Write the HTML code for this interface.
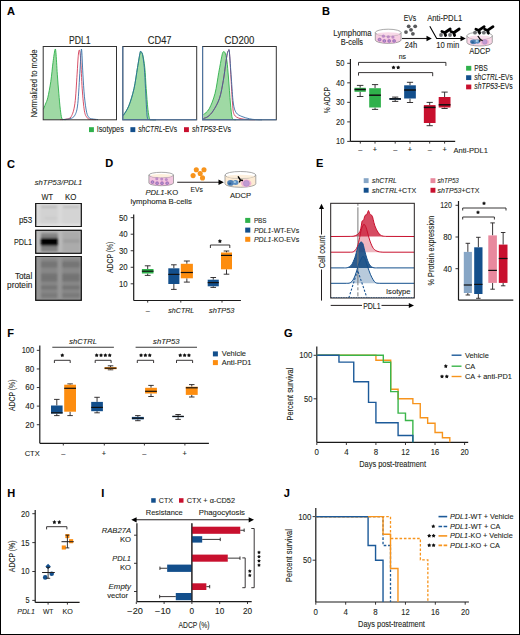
<!DOCTYPE html>
<html><head><meta charset="utf-8"><style>
html,body{margin:0;padding:0;background:#fff;}
svg{display:block;}
text{font-family:"Liberation Sans", sans-serif;}
</style></head><body>
<svg width="520" height="635" viewBox="0 0 520 635">
<rect x="0" y="0" width="520" height="635" fill="#fff"/>
<text x="6.90" y="14.80" font-size="11.0" fill="#000" font-weight="bold" stroke="#000" stroke-width="0.1">A</text>
<text x="79.80" y="43.80" font-size="10.0" fill="#231f20" text-anchor="middle" textLength="21.60" lengthAdjust="spacingAndGlyphs" stroke="#231f20" stroke-width="0.1">PDL1</text>
<text x="159.60" y="43.80" font-size="10.0" fill="#231f20" text-anchor="middle" textLength="23.80" lengthAdjust="spacingAndGlyphs" stroke="#231f20" stroke-width="0.1">CD47</text>
<text x="239.50" y="43.80" font-size="10.0" fill="#231f20" text-anchor="middle" textLength="29.80" lengthAdjust="spacingAndGlyphs" stroke="#231f20" stroke-width="0.1">CD200</text>
<path d="M43.40,109.30 C43.75,108.42 44.77,105.95 45.50,104.00 C46.23,102.05 46.92,101.35 47.80,97.60 C48.68,93.85 49.93,87.35 50.80,81.50 C51.67,75.65 52.32,67.73 53.00,62.50 C53.68,57.27 54.42,51.80 54.90,50.10 C55.38,48.40 55.50,48.28 55.90,52.30 C56.30,56.32 56.82,67.38 57.30,74.20 C57.78,81.02 58.30,87.35 58.80,93.20 C59.30,99.05 59.82,105.17 60.30,109.30 C60.78,113.43 61.25,116.32 61.70,118.00 C62.15,119.68 62.28,119.13 63.00,119.40 C63.72,119.67 65.50,119.57 66.00,119.60 L66.00,119.80 L43.40,119.80 Z" stroke="none" fill="#9fd9a4" stroke-width="1"/>
<path d="M43.40,109.30 C43.75,108.42 44.77,105.95 45.50,104.00 C46.23,102.05 46.92,101.35 47.80,97.60 C48.68,93.85 49.93,87.35 50.80,81.50 C51.67,75.65 52.32,67.73 53.00,62.50 C53.68,57.27 54.42,51.80 54.90,50.10 C55.38,48.40 55.50,48.28 55.90,52.30 C56.30,56.32 56.82,67.38 57.30,74.20 C57.78,81.02 58.30,87.35 58.80,93.20 C59.30,99.05 59.82,105.17 60.30,109.30 C60.78,113.43 61.25,116.32 61.70,118.00 C62.15,119.68 62.28,119.13 63.00,119.40 C63.72,119.67 65.50,119.57 66.00,119.60" stroke="#2fb14b" fill="none" stroke-width="0.9"/>
<path d="M60.00,119.60 C61.00,119.53 64.13,119.70 66.00,119.20 C67.87,118.70 69.72,119.22 71.20,116.60 C72.68,113.98 73.92,110.57 74.90,103.50 C75.88,96.43 76.55,82.00 77.10,74.20 C77.65,66.40 77.83,60.72 78.20,56.70 C78.57,52.68 78.88,49.62 79.30,50.10 C79.72,50.58 80.22,53.15 80.70,59.60 C81.18,66.05 81.58,80.27 82.20,88.80 C82.82,97.33 83.60,106.02 84.40,110.80 C85.20,115.58 86.07,116.08 87.00,117.50 C87.93,118.92 88.50,118.95 90.00,119.30 C91.50,119.65 95.00,119.55 96.00,119.60" stroke="#d0304c" fill="none" stroke-width="0.85"/>
<path d="M62.00,119.60 C63.30,119.47 67.65,119.53 69.80,118.80 C71.95,118.07 73.57,117.75 74.90,115.20 C76.23,112.65 76.95,111.03 77.80,103.50 C78.65,95.97 79.38,79.07 80.00,70.00 C80.62,60.93 81.02,48.40 81.50,49.10 C81.98,49.80 82.42,66.35 82.90,74.20 C83.38,82.05 83.78,89.87 84.40,96.20 C85.02,102.53 85.83,108.65 86.60,112.20 C87.37,115.75 88.15,116.40 89.00,117.50 C89.85,118.60 90.20,118.45 91.70,118.80 C93.20,119.15 96.95,119.47 98.00,119.60" stroke="#2c68a2" fill="none" stroke-width="0.85"/>
<path d="M123.30,115.30 C124.22,113.72 127.02,110.27 128.80,105.80 C130.58,101.33 132.55,94.85 134.00,88.50 C135.45,82.15 136.48,73.62 137.50,67.70 C138.52,61.78 139.52,55.60 140.10,53.00 C140.68,50.40 140.57,51.82 141.00,52.10 C141.43,52.38 142.07,52.10 142.70,54.70 C143.33,57.30 144.22,62.07 144.80,67.70 C145.38,73.33 145.68,81.58 146.20,88.50 C146.72,95.42 147.33,104.17 147.90,109.20 C148.47,114.23 148.92,116.97 149.60,118.70 C150.28,120.43 150.93,119.43 152.00,119.60 C153.07,119.77 155.33,119.68 156.00,119.70 L156.00,119.80 L123.30,119.80 Z" stroke="none" fill="#9fd9a4" stroke-width="1"/>
<path d="M123.30,115.30 C124.22,113.72 127.02,110.27 128.80,105.80 C130.58,101.33 132.55,94.85 134.00,88.50 C135.45,82.15 136.48,73.62 137.50,67.70 C138.52,61.78 139.52,55.60 140.10,53.00 C140.68,50.40 140.57,51.82 141.00,52.10 C141.43,52.38 142.07,52.10 142.70,54.70 C143.33,57.30 144.22,62.07 144.80,67.70 C145.38,73.33 145.68,81.58 146.20,88.50 C146.72,95.42 147.33,104.17 147.90,109.20 C148.47,114.23 148.92,116.97 149.60,118.70 C150.28,120.43 150.93,119.43 152.00,119.60 C153.07,119.77 155.33,119.68 156.00,119.70" stroke="#2fb14b" fill="none" stroke-width="0.9"/>
<path d="M123.30,115.60 C124.22,114.00 127.02,110.47 128.80,106.00 C130.58,101.53 132.55,95.22 134.00,88.80 C135.45,82.38 136.48,73.55 137.50,67.50 C138.52,61.45 139.52,55.12 140.10,52.50 C140.68,49.88 140.60,51.47 141.00,51.80 C141.40,52.13 141.95,51.85 142.50,54.50 C143.05,57.15 143.80,62.03 144.30,67.70 C144.80,73.37 145.12,81.58 145.50,88.50 C145.88,95.42 146.27,104.25 146.60,109.20 C146.93,114.15 146.93,116.47 147.50,118.20 C148.07,119.93 148.58,119.35 150.00,119.60 C151.42,119.85 155.00,119.68 156.00,119.70" stroke="#2c68a2" fill="none" stroke-width="0.85"/>
<path d="M203.50,114.60 C204.45,113.63 207.28,112.32 209.20,108.80 C211.12,105.28 213.40,99.58 215.00,93.50 C216.60,87.42 217.68,78.40 218.80,72.30 C219.92,66.20 221.00,60.27 221.70,56.90 C222.40,53.53 222.45,52.80 223.00,52.10 C223.55,51.40 224.35,51.25 225.00,52.70 C225.65,54.15 226.32,56.58 226.90,60.80 C227.48,65.02 227.92,70.97 228.50,78.00 C229.08,85.03 229.83,96.58 230.40,103.00 C230.97,109.42 231.42,113.77 231.90,116.50 C232.38,119.23 232.62,118.87 233.30,119.40 C233.98,119.93 235.55,119.65 236.00,119.70 L236.00,119.80 L203.50,119.80 Z" stroke="none" fill="#9fd9a4" stroke-width="1"/>
<path d="M203.50,114.60 C204.45,113.63 207.28,112.32 209.20,108.80 C211.12,105.28 213.40,99.58 215.00,93.50 C216.60,87.42 217.68,78.40 218.80,72.30 C219.92,66.20 221.00,60.27 221.70,56.90 C222.40,53.53 222.45,52.80 223.00,52.10 C223.55,51.40 224.35,51.25 225.00,52.70 C225.65,54.15 226.32,56.58 226.90,60.80 C227.48,65.02 227.92,70.97 228.50,78.00 C229.08,85.03 229.83,96.58 230.40,103.00 C230.97,109.42 231.42,113.77 231.90,116.50 C232.38,119.23 232.62,118.87 233.30,119.40 C233.98,119.93 235.55,119.65 236.00,119.70" stroke="#2fb14b" fill="none" stroke-width="0.9"/>
<path d="M203.50,118.50 C204.25,118.17 206.38,117.78 208.00,116.50 C209.62,115.22 211.28,113.83 213.20,110.80 C215.12,107.77 217.82,103.33 219.50,98.30 C221.18,93.27 222.25,86.48 223.30,80.60 C224.35,74.72 225.13,67.52 225.80,63.00 C226.47,58.48 226.88,55.53 227.30,53.50 C227.72,51.47 227.95,51.03 228.30,50.80 C228.65,50.57 228.95,47.57 229.40,52.10 C229.85,56.63 230.48,69.52 231.00,78.00 C231.52,86.48 231.97,96.90 232.50,103.00 C233.03,109.10 232.95,112.02 234.20,114.60 C235.45,117.18 237.70,117.68 240.00,118.50 C242.30,119.32 245.50,119.30 248.00,119.50 C250.50,119.70 253.83,119.67 255.00,119.70" stroke="#d0304c" fill="none" stroke-width="0.85"/>
<path d="M203.50,118.50 C204.25,118.17 206.38,117.78 208.00,116.50 C209.62,115.22 211.28,113.83 213.20,110.80 C215.12,107.77 217.82,103.33 219.50,98.30 C221.18,93.27 222.25,86.48 223.30,80.60 C224.35,74.72 225.13,67.52 225.80,63.00 C226.47,58.48 226.85,55.53 227.30,53.50 C227.75,51.47 228.15,51.03 228.50,50.80 C228.85,50.57 228.93,47.57 229.40,52.10 C229.87,56.63 230.65,69.52 231.30,78.00 C231.95,86.48 232.48,97.22 233.30,103.00 C234.12,108.78 234.77,110.45 236.20,112.70 C237.63,114.95 239.67,115.48 241.90,116.50 C244.13,117.52 247.35,118.28 249.60,118.80 C251.85,119.32 253.33,119.43 255.40,119.60 C257.47,119.77 260.90,119.77 262.00,119.80" stroke="#2c68a2" fill="none" stroke-width="0.85"/>
<rect x="43.20" y="46.50" width="73.30" height="73.30" fill="none" stroke="#333" stroke-width="1"/>
<rect x="122.80" y="46.50" width="73.90" height="73.30" fill="none" stroke="#333" stroke-width="1"/>
<rect x="202.60" y="46.50" width="73.70" height="73.30" fill="none" stroke="#333" stroke-width="1"/>
<path d="M122.80,46.50 L122.80,119.80 L196.70,119.80" stroke="#4f76a3" fill="none" stroke-width="1.1"/>
<path d="M202.60,46.50 L202.60,119.80 L276.30,119.80" stroke="#4f76a3" fill="none" stroke-width="1.1"/>
<text x="36.80" y="83.40" font-size="9.07" fill="#231f20" text-anchor="middle" textLength="68.00" lengthAdjust="spacingAndGlyphs" stroke="#231f20" stroke-width="0.1" transform="rotate(-90 36.80 83.40)">Normalized to mode</text>
<rect x="89.00" y="127.20" width="4.90" height="4.90" fill="#2fb14b" stroke="none" stroke-width="1"/>
<text x="96.70" y="132.30" font-size="8.64" fill="#231f20" textLength="27.10" lengthAdjust="spacingAndGlyphs" stroke="#231f20" stroke-width="0.1">Isotypes</text>
<rect x="130.40" y="127.20" width="4.90" height="4.90" fill="#134f8c" stroke="none" stroke-width="1"/>
<text x="138.30" y="132.30" font-size="8.64" fill="#231f20" textLength="38.80" lengthAdjust="spacingAndGlyphs" stroke="#231f20" stroke-width="0.1"><tspan font-style="italic">shCTRL</tspan>-EVs</text>
<rect x="184.00" y="127.20" width="4.90" height="4.90" fill="#c8102e" stroke="none" stroke-width="1"/>
<text x="192.10" y="132.30" font-size="8.64" fill="#231f20" textLength="38.90" lengthAdjust="spacingAndGlyphs" stroke="#231f20" stroke-width="0.1"><tspan font-style="italic">shTP53</tspan>-EVs</text>
<text x="322.10" y="14.80" font-size="11.0" fill="#000" font-weight="bold" stroke="#000" stroke-width="0.1">B</text>
<text x="352.50" y="36.20" font-size="8.21" fill="#231f20" text-anchor="middle" textLength="38.30" lengthAdjust="spacingAndGlyphs" stroke="#231f20" stroke-width="0.1">Lymphoma</text>
<text x="351.90" y="45.10" font-size="8.21" fill="#231f20" text-anchor="middle" textLength="22.20" lengthAdjust="spacingAndGlyphs" stroke="#231f20" stroke-width="0.1">B-cells</text>
<path d="M375.30,32.60 L375.30,40.00 A12.90,3.40 0 0 0 401.10,40.00 L401.10,32.60 Z" fill="#f6cfe2" stroke="#858585" stroke-width="0.7"/>
<ellipse cx="388.20" cy="32.60" rx="12.90" ry="3.40" fill="#fff" stroke="#858585" stroke-width="0.7"/>
<ellipse cx="388.20" cy="34.13" rx="11.30" ry="1.87" fill="#f6cfe2" opacity="0.8"/>
<circle cx="383.40" cy="36.20" r="1.60" fill="#b27cc0" opacity="0.8"/>
<circle cx="388.30" cy="36.80" r="1.60" fill="#b27cc0" opacity="0.8"/>
<circle cx="392.90" cy="37.10" r="1.60" fill="#b27cc0" opacity="0.8"/>
<circle cx="379.60" cy="39.60" r="2.20" fill="#e9a9d6"/>
<circle cx="379.60" cy="39.60" r="1.32" fill="#b99ad0" stroke="#8257a8" stroke-width="0.6"/>
<circle cx="384.30" cy="41.00" r="2.20" fill="#e9a9d6"/>
<circle cx="384.30" cy="41.00" r="1.32" fill="#b99ad0" stroke="#8257a8" stroke-width="0.6"/>
<circle cx="389.20" cy="41.00" r="2.20" fill="#e9a9d6"/>
<circle cx="389.20" cy="41.00" r="1.32" fill="#b99ad0" stroke="#8257a8" stroke-width="0.6"/>
<circle cx="394.10" cy="41.00" r="2.20" fill="#e9a9d6"/>
<circle cx="394.10" cy="41.00" r="1.32" fill="#b99ad0" stroke="#8257a8" stroke-width="0.6"/>
<circle cx="408.7" cy="26.3" r="1.9" fill="#58595b"/>
<circle cx="415.2" cy="26.3" r="1.9" fill="#58595b"/>
<circle cx="411" cy="29.8" r="1.9" fill="#58595b"/>
<circle cx="406" cy="32.1" r="1.9" fill="#58595b"/>
<circle cx="412.9" cy="33.8" r="1.9" fill="#58595b"/>
<text x="410.00" y="20.60" font-size="8.21" fill="#231f20" text-anchor="middle" textLength="12.50" lengthAdjust="spacingAndGlyphs" stroke="#231f20" stroke-width="0.1">EVs</text>
<line x1="402.00" y1="38.50" x2="427.50" y2="38.50" stroke="#231f20" stroke-width="1.1"/>
<path d="M431.8,38.5 L426.5,35.8 L426.5,41.2 Z" stroke="none" fill="#000" stroke-width="1"/>
<text x="411.00" y="47.50" font-size="8.21" fill="#231f20" text-anchor="middle" textLength="12.70" lengthAdjust="spacingAndGlyphs" stroke="#231f20" stroke-width="0.1">24h</text>
<text x="444.70" y="20.60" font-size="8.21" fill="#231f20" text-anchor="middle" textLength="34.90" lengthAdjust="spacingAndGlyphs" stroke="#231f20" stroke-width="0.1">Anti-PDL1</text>
<path d="M429.8,26.3 L436.7,38.5 L461,38.5" stroke="#000" fill="none" stroke-width="1.1"/>
<path d="M465.8,38.5 L460.5,35.8 L460.5,41.2 Z" stroke="none" fill="#000" stroke-width="1"/>
<text x="447.70" y="47.70" font-size="8.21" fill="#231f20" text-anchor="middle" textLength="23.00" lengthAdjust="spacingAndGlyphs" stroke="#231f20" stroke-width="0.1">10 min</text>
<circle cx="441.00" cy="35.00" r="1.9" fill="#6d6e71"/>
<path d="M441.90,31.50 L444.75,32.75 L450.20,29.00 M444.75,32.75 L445.60,35.50" stroke="#000" fill="none" stroke-width="2.8" stroke-linecap="round" stroke-linejoin="round"/>
<circle cx="450.00" cy="35.00" r="1.9" fill="#6d6e71"/>
<path d="M450.90,31.50 L453.75,32.75 L459.20,29.00 M453.75,32.75 L454.60,35.50" stroke="#000" fill="none" stroke-width="2.8" stroke-linecap="round" stroke-linejoin="round"/>
<path d="M466.90,35.80 L466.90,42.40 A12.70,3.60 0 0 0 492.30,42.40 L492.30,35.80 Z" fill="#f8d6e6" stroke="#858585" stroke-width="0.7"/>
<ellipse cx="479.60" cy="35.80" rx="12.70" ry="3.60" fill="#fff" stroke="#858585" stroke-width="0.7"/>
<ellipse cx="479.60" cy="37.42" rx="11.10" ry="1.98" fill="#f8d6e6" opacity="0.8"/>
<ellipse cx="473.5" cy="41.8" rx="3.4" ry="2.4" fill="#4f80b5"/>
<ellipse cx="477.6" cy="41.6" rx="2.6" ry="2.1" fill="#5d8fc2"/>
<ellipse cx="472.6" cy="42.2" rx="1.4" ry="1.0" fill="#2a5f95"/>
<ellipse cx="476.8" cy="41.0" rx="1.2" ry="0.9" fill="#a9d0e6"/>
<ellipse cx="484.8" cy="41.9" rx="4.2" ry="3.0" fill="#f2b7d4"/>
<circle cx="484.8" cy="41.9" r="2.4" fill="#bf9bd2" stroke="#9f7bbf" stroke-width="0.4"/>
<path d="M477.8,36.0 L480.3,39.4 L482.6,40.8 M480.3,39.4 L479.6,41.6" stroke="#000" fill="none" stroke-width="1.2"/>
<circle cx="475.00" cy="32.70" r="1.9" fill="#6d6e71"/>
<path d="M475.90,29.20 L478.75,30.45 L484.20,26.70 M478.75,30.45 L479.60,33.20" stroke="#000" fill="none" stroke-width="2.8" stroke-linecap="round" stroke-linejoin="round"/>
<circle cx="483.80" cy="32.70" r="1.9" fill="#6d6e71"/>
<path d="M484.70,29.20 L487.55,30.45 L493.00,26.70 M487.55,30.45 L488.40,33.20" stroke="#000" fill="none" stroke-width="2.8" stroke-linecap="round" stroke-linejoin="round"/>
<text x="479.80" y="53.50" font-size="8.21" fill="#231f20" text-anchor="middle" textLength="21.20" lengthAdjust="spacingAndGlyphs" stroke="#231f20" stroke-width="0.1">ADCP</text>
<line x1="350.40" y1="58.90" x2="350.40" y2="141.40" stroke="#1a1a1a" stroke-width="1.2"/>
<line x1="350.40" y1="141.40" x2="455.20" y2="141.40" stroke="#1a1a1a" stroke-width="1.2"/>
<line x1="347.20" y1="141.40" x2="350.40" y2="141.40" stroke="#231f20" stroke-width="0.9"/>
<text x="344.40" y="144.35" font-size="8.3" fill="#231f20" text-anchor="end" textLength="8.40" lengthAdjust="spacingAndGlyphs" stroke="#231f20" stroke-width="0.1">10</text>
<line x1="347.20" y1="121.88" x2="350.40" y2="121.88" stroke="#231f20" stroke-width="0.9"/>
<text x="344.40" y="124.83" font-size="8.3" fill="#231f20" text-anchor="end" textLength="8.40" lengthAdjust="spacingAndGlyphs" stroke="#231f20" stroke-width="0.1">20</text>
<line x1="347.20" y1="102.35" x2="350.40" y2="102.35" stroke="#231f20" stroke-width="0.9"/>
<text x="344.40" y="105.30" font-size="8.3" fill="#231f20" text-anchor="end" textLength="8.40" lengthAdjust="spacingAndGlyphs" stroke="#231f20" stroke-width="0.1">30</text>
<line x1="347.20" y1="82.83" x2="350.40" y2="82.83" stroke="#231f20" stroke-width="0.9"/>
<text x="344.40" y="85.78" font-size="8.3" fill="#231f20" text-anchor="end" textLength="8.40" lengthAdjust="spacingAndGlyphs" stroke="#231f20" stroke-width="0.1">40</text>
<line x1="347.20" y1="63.30" x2="350.40" y2="63.30" stroke="#231f20" stroke-width="0.9"/>
<text x="344.40" y="66.25" font-size="8.3" fill="#231f20" text-anchor="end" textLength="8.40" lengthAdjust="spacingAndGlyphs" stroke="#231f20" stroke-width="0.1">50</text>
<text x="329.90" y="100.15" font-size="9.6" fill="#231f20" text-anchor="middle" textLength="26.10" lengthAdjust="spacingAndGlyphs" stroke="#231f20" stroke-width="0.1" transform="rotate(-90 329.90 100.15)">% ADCP</text>
<line x1="360.30" y1="141.40" x2="360.30" y2="143.60" stroke="#231f20" stroke-width="0.9"/>
<text x="360.30" y="152.00" font-size="7.34" fill="#231f20" text-anchor="middle" stroke="#231f20" stroke-width="0.1">–</text>
<line x1="375.00" y1="141.40" x2="375.00" y2="143.60" stroke="#231f20" stroke-width="0.9"/>
<text x="375.00" y="152.00" font-size="7.34" fill="#231f20" text-anchor="middle" stroke="#231f20" stroke-width="0.1">+</text>
<line x1="395.20" y1="141.40" x2="395.20" y2="143.60" stroke="#231f20" stroke-width="0.9"/>
<text x="395.20" y="152.00" font-size="7.34" fill="#231f20" text-anchor="middle" stroke="#231f20" stroke-width="0.1">–</text>
<line x1="410.00" y1="141.40" x2="410.00" y2="143.60" stroke="#231f20" stroke-width="0.9"/>
<text x="410.00" y="152.00" font-size="7.34" fill="#231f20" text-anchor="middle" stroke="#231f20" stroke-width="0.1">+</text>
<line x1="429.70" y1="141.40" x2="429.70" y2="143.60" stroke="#231f20" stroke-width="0.9"/>
<text x="429.70" y="152.00" font-size="7.34" fill="#231f20" text-anchor="middle" stroke="#231f20" stroke-width="0.1">–</text>
<line x1="444.60" y1="141.40" x2="444.60" y2="143.60" stroke="#231f20" stroke-width="0.9"/>
<text x="444.60" y="152.00" font-size="7.34" fill="#231f20" text-anchor="middle" stroke="#231f20" stroke-width="0.1">+</text>
<text x="453.50" y="152.90" font-size="8.0" fill="#231f20" textLength="34.50" lengthAdjust="spacingAndGlyphs" stroke="#231f20" stroke-width="0.1">Anti-PDL1</text>
<line x1="360.15" y1="85.40" x2="360.15" y2="87.80" stroke="#231f20" stroke-width="0.9"/>
<line x1="360.15" y1="91.80" x2="360.15" y2="96.50" stroke="#231f20" stroke-width="0.9"/>
<line x1="356.90" y1="85.40" x2="363.40" y2="85.40" stroke="#231f20" stroke-width="0.9"/>
<line x1="356.90" y1="96.50" x2="363.40" y2="96.50" stroke="#231f20" stroke-width="0.9"/>
<rect x="354.50" y="87.80" width="11.30" height="4.00" fill="#2fb14b" stroke="none" stroke-width="1"/>
<line x1="354.50" y1="89.50" x2="365.80" y2="89.50" stroke="#111" stroke-width="1.5"/>
<line x1="375.05" y1="84.60" x2="375.05" y2="88.20" stroke="#231f20" stroke-width="0.9"/>
<line x1="375.05" y1="107.50" x2="375.05" y2="109.40" stroke="#231f20" stroke-width="0.9"/>
<line x1="371.95" y1="84.60" x2="378.15" y2="84.60" stroke="#231f20" stroke-width="0.9"/>
<line x1="371.95" y1="109.40" x2="378.15" y2="109.40" stroke="#231f20" stroke-width="0.9"/>
<rect x="369.20" y="88.20" width="11.70" height="19.30" fill="#2fb14b" stroke="none" stroke-width="1"/>
<line x1="369.20" y1="95.20" x2="380.90" y2="95.20" stroke="#111" stroke-width="1.5"/>
<line x1="395.20" y1="97.10" x2="395.20" y2="98.00" stroke="#231f20" stroke-width="0.9"/>
<line x1="395.20" y1="99.80" x2="395.20" y2="101.40" stroke="#231f20" stroke-width="0.9"/>
<line x1="392.10" y1="97.10" x2="398.30" y2="97.10" stroke="#231f20" stroke-width="0.9"/>
<line x1="392.10" y1="101.40" x2="398.30" y2="101.40" stroke="#231f20" stroke-width="0.9"/>
<rect x="389.45" y="98.00" width="11.50" height="1.80" fill="#134f8c" stroke="none" stroke-width="1"/>
<line x1="389.45" y1="98.90" x2="400.95" y2="98.90" stroke="#111" stroke-width="1.5"/>
<line x1="410.00" y1="82.30" x2="410.00" y2="85.30" stroke="#231f20" stroke-width="0.9"/>
<line x1="410.00" y1="98.50" x2="410.00" y2="102.50" stroke="#231f20" stroke-width="0.9"/>
<line x1="406.90" y1="82.30" x2="413.10" y2="82.30" stroke="#231f20" stroke-width="0.9"/>
<line x1="406.90" y1="102.50" x2="413.10" y2="102.50" stroke="#231f20" stroke-width="0.9"/>
<rect x="404.15" y="85.30" width="11.70" height="13.20" fill="#134f8c" stroke="none" stroke-width="1"/>
<line x1="404.15" y1="90.00" x2="415.85" y2="90.00" stroke="#111" stroke-width="1.5"/>
<line x1="429.70" y1="102.40" x2="429.70" y2="105.10" stroke="#231f20" stroke-width="0.9"/>
<line x1="429.70" y1="123.00" x2="429.70" y2="125.70" stroke="#231f20" stroke-width="0.9"/>
<line x1="426.60" y1="102.40" x2="432.80" y2="102.40" stroke="#231f20" stroke-width="0.9"/>
<line x1="426.60" y1="125.70" x2="432.80" y2="125.70" stroke="#231f20" stroke-width="0.9"/>
<rect x="423.85" y="105.10" width="11.70" height="17.90" fill="#c8102e" stroke="none" stroke-width="1"/>
<line x1="423.85" y1="107.40" x2="435.55" y2="107.40" stroke="#111" stroke-width="1.5"/>
<line x1="444.60" y1="92.10" x2="444.60" y2="97.00" stroke="#231f20" stroke-width="0.9"/>
<line x1="444.60" y1="107.50" x2="444.60" y2="108.50" stroke="#231f20" stroke-width="0.9"/>
<line x1="441.50" y1="92.10" x2="447.70" y2="92.10" stroke="#231f20" stroke-width="0.9"/>
<line x1="441.50" y1="108.50" x2="447.70" y2="108.50" stroke="#231f20" stroke-width="0.9"/>
<rect x="438.70" y="97.00" width="11.80" height="10.50" fill="#c8102e" stroke="none" stroke-width="1"/>
<line x1="438.70" y1="104.80" x2="450.50" y2="104.80" stroke="#111" stroke-width="1.5"/>
<path d="M358.5,65.5 L358.5,62.4 L445.9,62.4 L445.9,65.9" stroke="#231f20" fill="none" stroke-width="0.9"/>
<text x="402.40" y="59.20" font-size="7.34" fill="#231f20" text-anchor="middle" textLength="7.30" lengthAdjust="spacingAndGlyphs" stroke="#231f20" stroke-width="0.1">ns</text>
<path d="M358.5,75.6 L358.5,72.6 L432.7,72.6 L432.7,76.2" stroke="#231f20" fill="none" stroke-width="0.9"/>
<path d="M393.50,65.40 L394.22,66.51 L395.50,66.85 L394.66,67.88 L394.73,69.20 L393.50,68.72 L392.27,69.20 L392.34,67.88 L391.50,66.85 L392.78,66.51 Z" stroke="none" fill="#111" stroke-width="1"/>
<path d="M398.20,65.40 L398.92,66.51 L400.20,66.85 L399.36,67.88 L399.43,69.20 L398.20,68.72 L396.97,69.20 L397.04,67.88 L396.20,66.85 L397.48,66.51 Z" stroke="none" fill="#111" stroke-width="1"/>
<rect x="466.10" y="65.85" width="5.20" height="4.80" fill="#2fb14b" stroke="none" stroke-width="1"/>
<text x="474.30" y="70.65" font-size="8.42" fill="#231f20" textLength="13.50" lengthAdjust="spacingAndGlyphs" stroke="#231f20" stroke-width="0.1">PBS</text>
<rect x="466.10" y="75.25" width="5.20" height="4.80" fill="#134f8c" stroke="none" stroke-width="1"/>
<text x="474.30" y="80.05" font-size="8.42" fill="#231f20" textLength="38.50" lengthAdjust="spacingAndGlyphs" stroke="#231f20" stroke-width="0.1"><tspan font-style="italic">shCTRL</tspan>-EVs</text>
<rect x="466.10" y="84.55" width="5.20" height="4.80" fill="#c8102e" stroke="none" stroke-width="1"/>
<text x="474.30" y="89.35" font-size="8.42" fill="#231f20" textLength="38.50" lengthAdjust="spacingAndGlyphs" stroke="#231f20" stroke-width="0.1"><tspan font-style="italic">shTP53</tspan>-EVs</text>
<text x="7.10" y="167.60" font-size="11.0" fill="#000" font-weight="bold" stroke="#000" stroke-width="0.1">C</text>
<text x="58.50" y="185.10" font-size="7.99" fill="#231f20" text-anchor="middle" font-style="italic" textLength="47.40" lengthAdjust="spacingAndGlyphs" stroke="#231f20" stroke-width="0.1">shTP53/PDL1</text>
<text x="47.20" y="200.30" font-size="8.21" fill="#231f20" text-anchor="middle" textLength="11.50" lengthAdjust="spacingAndGlyphs" stroke="#231f20" stroke-width="0.1">WT</text>
<text x="70.80" y="200.30" font-size="8.21" fill="#231f20" text-anchor="middle" textLength="11.40" lengthAdjust="spacingAndGlyphs" stroke="#231f20" stroke-width="0.1">KO</text>
<text x="32.30" y="223.20" font-size="8.42" fill="#231f20" text-anchor="end" textLength="13.40" lengthAdjust="spacingAndGlyphs" stroke="#231f20" stroke-width="0.1">p53</text>
<text x="32.00" y="245.10" font-size="8.42" fill="#231f20" text-anchor="end" textLength="18.10" lengthAdjust="spacingAndGlyphs" stroke="#231f20" stroke-width="0.1">PDL1</text>
<text x="32.30" y="278.80" font-size="8.42" fill="#231f20" text-anchor="end" textLength="17.40" lengthAdjust="spacingAndGlyphs" stroke="#231f20" stroke-width="0.1">Total</text>
<text x="32.30" y="287.70" font-size="8.42" fill="#231f20" text-anchor="end" textLength="25.20" lengthAdjust="spacingAndGlyphs" stroke="#231f20" stroke-width="0.1">protein</text>
<defs>
<linearGradient id="lanes1" x1="0" x2="1" y1="0" y2="0">
<stop offset="0" stop-color="#d6d6d6"/><stop offset="0.45" stop-color="#d2d2d2"/><stop offset="0.5" stop-color="#e0e0e0"/><stop offset="0.56" stop-color="#d4d4d4"/><stop offset="1" stop-color="#d0d0d0"/>
</linearGradient>
<linearGradient id="lanes2" x1="0" x2="1" y1="0" y2="0">
<stop offset="0" stop-color="#bdbdbd"/><stop offset="0.1" stop-color="#b5b5b5"/><stop offset="0.46" stop-color="#a9a9a9"/><stop offset="0.5" stop-color="#c4c4c4"/><stop offset="0.56" stop-color="#b2b2b2"/><stop offset="1" stop-color="#ababab"/>
</linearGradient>
<linearGradient id="lanes3" x1="0" x2="1" y1="0" y2="0">
<stop offset="0" stop-color="#939393"/><stop offset="0.12" stop-color="#8d8d8d"/><stop offset="0.2" stop-color="#7e7e7e"/><stop offset="0.46" stop-color="#7f7f7f"/><stop offset="0.5" stop-color="#9c9c9c"/><stop offset="0.55" stop-color="#808080"/><stop offset="1" stop-color="#7c7c7c"/>
</linearGradient>
<radialGradient id="band" cx="0.5" cy="0.5" r="0.5">
<stop offset="0" stop-color="#000" stop-opacity="1"/><stop offset="0.55" stop-color="#111" stop-opacity="0.95"/><stop offset="1" stop-color="#333" stop-opacity="0"/>
</radialGradient>
<filter id="blur1" x="-20%" y="-20%" width="140%" height="140%"><feGaussianBlur stdDeviation="0.8"/></filter>
</defs>
<rect x="35.70" y="203.50" width="45.60" height="23.00" fill="#d9d9d9" stroke="#1a1a1a" stroke-width="1"/>
<g filter="url(#blur1)">
<rect x="40.50" y="205.00" width="17.00" height="20.00" fill="#d2d2d2" stroke="none" stroke-width="1"/>
<rect x="62.50" y="205.00" width="17.50" height="20.00" fill="#d4d4d4" stroke="none" stroke-width="1"/>
<rect x="41.00" y="206.20" width="16.00" height="1.60" fill="#b5b5b5" stroke="none" stroke-width="1"/>
<rect x="63.00" y="206.20" width="16.00" height="1.60" fill="#b9b9b9" stroke="none" stroke-width="1"/>
<rect x="45.00" y="217.50" width="12.00" height="1.50" fill="#c6c6c6" stroke="none" stroke-width="1"/>
<rect x="36.50" y="224.30" width="44.00" height="1.20" fill="#ececec" stroke="none" stroke-width="1"/>
</g>
<rect x="35.70" y="203.50" width="45.60" height="23.00" fill="none" stroke="#1a1a1a" stroke-width="1"/>
<rect x="35.70" y="230.30" width="45.60" height="23.00" fill="#b9b9b9" stroke="#1a1a1a" stroke-width="1"/>
<g filter="url(#blur1)">
<rect x="41.00" y="231.50" width="16.50" height="21.00" fill="#a9a9a9" stroke="none" stroke-width="1"/>
<rect x="62.50" y="231.50" width="17.50" height="21.00" fill="#ababab" stroke="none" stroke-width="1"/>
<rect x="41.00" y="233.50" width="16.80" height="18.00" fill="#5a5a5a" stroke="none" stroke-width="1" opacity="0.5"/>
<rect x="40.80" y="238.20" width="16.90" height="7.40" fill="#050505" stroke="none" stroke-width="1"/>
<rect x="63.00" y="239.50" width="17.00" height="3.00" fill="#959595" stroke="none" stroke-width="1" opacity="0.6"/>
</g>
<rect x="35.70" y="230.30" width="45.60" height="23.00" fill="none" stroke="#1a1a1a" stroke-width="1"/>
<rect x="35.70" y="256.50" width="45.60" height="43.80" fill="#949494" stroke="#1a1a1a" stroke-width="1"/>
<g filter="url(#blur1)">
<rect x="41.00" y="258.00" width="16.30" height="41.00" fill="#878787" stroke="none" stroke-width="1"/>
<rect x="62.30" y="258.00" width="17.50" height="41.00" fill="#888888" stroke="none" stroke-width="1"/>
<rect x="41.00" y="261.50" width="16.30" height="6.00" fill="#666" stroke="none" stroke-width="1" opacity="0.55"/>
<rect x="62.30" y="261.50" width="17.50" height="6.00" fill="#666" stroke="none" stroke-width="1" opacity="0.55"/>
<rect x="41.00" y="273.50" width="16.30" height="8.00" fill="#666" stroke="none" stroke-width="1" opacity="0.6"/>
<rect x="62.30" y="273.50" width="17.50" height="8.00" fill="#666" stroke="none" stroke-width="1" opacity="0.6"/>
<rect x="41.00" y="285.50" width="16.30" height="4.00" fill="#666" stroke="none" stroke-width="1" opacity="0.55"/>
<rect x="62.30" y="285.50" width="17.50" height="4.00" fill="#666" stroke="none" stroke-width="1" opacity="0.55"/>
<rect x="41.00" y="293.00" width="16.30" height="4.50" fill="#666" stroke="none" stroke-width="1" opacity="0.4"/>
<rect x="62.30" y="293.00" width="17.50" height="4.50" fill="#666" stroke="none" stroke-width="1" opacity="0.4"/>
</g>
<rect x="35.70" y="256.50" width="45.60" height="43.80" fill="none" stroke="#1a1a1a" stroke-width="1"/>
<text x="105.20" y="167.40" font-size="11.0" fill="#000" font-weight="bold" stroke="#000" stroke-width="0.1">D</text>
<path d="M148.90,175.00 L148.90,183.00 A12.30,2.70 0 0 0 173.50,183.00 L173.50,175.00 Z" fill="#f3c6e0" stroke="#858585" stroke-width="0.7"/>
<ellipse cx="161.20" cy="175.00" rx="12.30" ry="2.70" fill="#fff" stroke="#858585" stroke-width="0.7"/>
<ellipse cx="161.20" cy="176.22" rx="10.70" ry="1.49" fill="#f3c6e0" opacity="0.8"/>
<ellipse cx="161.2" cy="175.6" rx="10.5" ry="1.6" fill="#fdf0dc"/>
<circle cx="156.80" cy="178.80" r="1.50" fill="#b27cc0" opacity="0.8"/>
<circle cx="161.70" cy="179.10" r="1.50" fill="#b27cc0" opacity="0.8"/>
<circle cx="166.30" cy="179.40" r="1.50" fill="#b27cc0" opacity="0.8"/>
<circle cx="152.50" cy="182.10" r="2.20" fill="#e9a9d6"/>
<circle cx="152.50" cy="182.10" r="1.32" fill="#b99ad0" stroke="#8257a8" stroke-width="0.6"/>
<circle cx="157.10" cy="183.20" r="2.20" fill="#e9a9d6"/>
<circle cx="157.10" cy="183.20" r="1.32" fill="#b99ad0" stroke="#8257a8" stroke-width="0.6"/>
<circle cx="162.00" cy="183.20" r="2.20" fill="#e9a9d6"/>
<circle cx="162.00" cy="183.20" r="1.32" fill="#b99ad0" stroke="#8257a8" stroke-width="0.6"/>
<circle cx="167.20" cy="183.20" r="2.20" fill="#e9a9d6"/>
<circle cx="167.20" cy="183.20" r="1.32" fill="#b99ad0" stroke="#8257a8" stroke-width="0.6"/>
<text x="161.80" y="194.90" font-size="7.99" fill="#231f20" text-anchor="middle" textLength="32.80" lengthAdjust="spacingAndGlyphs" stroke="#231f20" stroke-width="0.1"><tspan font-style="italic">PDL1</tspan>-KO</text>
<text x="161.20" y="204.20" font-size="7.99" fill="#231f20" text-anchor="middle" textLength="61.50" lengthAdjust="spacingAndGlyphs" stroke="#231f20" stroke-width="0.1">lymphoma B-cells</text>
<line x1="177.20" y1="182.30" x2="219.50" y2="182.30" stroke="#231f20" stroke-width="1.1"/>
<path d="M223.8,182.3 L218.5,179.6 L218.5,185.0 Z" stroke="none" fill="#000" stroke-width="1"/>
<circle cx="196.3" cy="169.8" r="2.55" fill="#f7941d"/>
<circle cx="204" cy="169.8" r="2.55" fill="#f7941d"/>
<circle cx="200.2" cy="173.5" r="2.55" fill="#f7941d"/>
<circle cx="193.1" cy="175.6" r="2.55" fill="#f7941d"/>
<circle cx="202.5" cy="177.9" r="2.55" fill="#f7941d"/>
<text x="196.80" y="192.30" font-size="7.99" fill="#231f20" text-anchor="middle" textLength="12.40" lengthAdjust="spacingAndGlyphs" stroke="#231f20" stroke-width="0.1">EVs</text>
<path d="M225.00,175.00 L225.00,183.80 A15.40,3.50 0 0 0 255.80,183.80 L255.80,175.00 Z" fill="#fdebd3" stroke="#858585" stroke-width="0.7"/>
<ellipse cx="240.40" cy="175.00" rx="15.40" ry="3.50" fill="#fff" stroke="#858585" stroke-width="0.7"/>
<ellipse cx="240.40" cy="176.57" rx="13.80" ry="1.93" fill="#fdebd3" opacity="0.8"/>
<ellipse cx="230.6" cy="182.9" rx="3.4" ry="2.8" fill="#4f80b5"/>
<ellipse cx="235.6" cy="182.6" rx="2.9" ry="2.5" fill="#5d8fc2"/>
<ellipse cx="229.8" cy="183.6" rx="1.5" ry="1.1" fill="#2a5f95"/>
<ellipse cx="234.8" cy="182.0" rx="1.3" ry="1.0" fill="#a9d0e6"/>
<ellipse cx="246.2" cy="183.3" rx="5.2" ry="3.8" fill="#f2b7d4"/>
<circle cx="246.4" cy="183.4" r="3.0" fill="#bf9bd2" stroke="#9f7bbf" stroke-width="0.4"/>
<path d="M238,176.4 L240.4,180 L243,180.5 M240.4,180 L239.3,182.4" stroke="#000" fill="none" stroke-width="1.4"/>
<text x="240.60" y="198.10" font-size="7.99" fill="#231f20" text-anchor="middle" textLength="21.20" lengthAdjust="spacingAndGlyphs" stroke="#231f20" stroke-width="0.1">ADCP</text>
<line x1="133.70" y1="214.50" x2="133.70" y2="300.50" stroke="#1a1a1a" stroke-width="1.2"/>
<line x1="133.70" y1="300.50" x2="240.90" y2="300.50" stroke="#1a1a1a" stroke-width="1.2"/>
<line x1="130.70" y1="283.80" x2="133.70" y2="283.80" stroke="#231f20" stroke-width="0.9"/>
<text x="127.70" y="286.75" font-size="8.3" fill="#231f20" text-anchor="end" textLength="8.70" lengthAdjust="spacingAndGlyphs" stroke="#231f20" stroke-width="0.1">10</text>
<line x1="130.70" y1="267.27" x2="133.70" y2="267.27" stroke="#231f20" stroke-width="0.9"/>
<text x="127.70" y="270.22" font-size="8.3" fill="#231f20" text-anchor="end" textLength="8.70" lengthAdjust="spacingAndGlyphs" stroke="#231f20" stroke-width="0.1">20</text>
<line x1="130.70" y1="250.74" x2="133.70" y2="250.74" stroke="#231f20" stroke-width="0.9"/>
<text x="127.70" y="253.69" font-size="8.3" fill="#231f20" text-anchor="end" textLength="8.70" lengthAdjust="spacingAndGlyphs" stroke="#231f20" stroke-width="0.1">30</text>
<line x1="130.70" y1="234.21" x2="133.70" y2="234.21" stroke="#231f20" stroke-width="0.9"/>
<text x="127.70" y="237.16" font-size="8.3" fill="#231f20" text-anchor="end" textLength="8.70" lengthAdjust="spacingAndGlyphs" stroke="#231f20" stroke-width="0.1">40</text>
<line x1="130.70" y1="217.68" x2="133.70" y2="217.68" stroke="#231f20" stroke-width="0.9"/>
<text x="127.70" y="220.63" font-size="8.3" fill="#231f20" text-anchor="end" textLength="8.70" lengthAdjust="spacingAndGlyphs" stroke="#231f20" stroke-width="0.1">50</text>
<text x="112.80" y="257.30" font-size="9.2" fill="#231f20" text-anchor="middle" textLength="31.20" lengthAdjust="spacingAndGlyphs" stroke="#231f20" stroke-width="0.1" transform="rotate(-90 112.80 257.30)">ADCP (%)</text>
<line x1="147.70" y1="300.50" x2="147.70" y2="302.60" stroke="#231f20" stroke-width="0.9"/>
<line x1="180.80" y1="300.50" x2="180.80" y2="302.60" stroke="#231f20" stroke-width="0.9"/>
<line x1="222.00" y1="300.50" x2="222.00" y2="302.60" stroke="#231f20" stroke-width="0.9"/>
<text x="147.70" y="313.00" font-size="7.34" fill="#231f20" text-anchor="middle" stroke="#231f20" stroke-width="0.1">–</text>
<text x="181.30" y="313.30" font-size="7.34" fill="#231f20" text-anchor="middle" font-style="italic" textLength="26.00" lengthAdjust="spacingAndGlyphs" stroke="#231f20" stroke-width="0.1">shCTRL</text>
<text x="221.70" y="313.30" font-size="7.34" fill="#231f20" text-anchor="middle" font-style="italic" textLength="25.50" lengthAdjust="spacingAndGlyphs" stroke="#231f20" stroke-width="0.1">shTP53</text>
<line x1="147.70" y1="265.80" x2="147.70" y2="269.00" stroke="#231f20" stroke-width="0.9"/>
<line x1="147.70" y1="273.50" x2="147.70" y2="275.40" stroke="#231f20" stroke-width="0.9"/>
<line x1="144.80" y1="265.80" x2="150.60" y2="265.80" stroke="#231f20" stroke-width="0.9"/>
<line x1="144.80" y1="275.40" x2="150.60" y2="275.40" stroke="#231f20" stroke-width="0.9"/>
<rect x="141.90" y="269.00" width="11.60" height="4.50" fill="#2fb14b" stroke="none" stroke-width="1"/>
<line x1="141.90" y1="271.20" x2="153.50" y2="271.20" stroke="#111" stroke-width="1.2"/>
<line x1="173.85" y1="264.80" x2="173.85" y2="268.30" stroke="#231f20" stroke-width="0.9"/>
<line x1="173.85" y1="284.00" x2="173.85" y2="289.40" stroke="#231f20" stroke-width="0.9"/>
<line x1="171.05" y1="264.80" x2="176.65" y2="264.80" stroke="#231f20" stroke-width="0.9"/>
<line x1="171.05" y1="289.40" x2="176.65" y2="289.40" stroke="#231f20" stroke-width="0.9"/>
<rect x="168.30" y="268.30" width="11.10" height="15.70" fill="#134f8c" stroke="none" stroke-width="1"/>
<line x1="168.30" y1="274.40" x2="179.40" y2="274.40" stroke="#111" stroke-width="1.2"/>
<line x1="186.85" y1="261.00" x2="186.85" y2="263.80" stroke="#231f20" stroke-width="0.9"/>
<line x1="186.85" y1="278.30" x2="186.85" y2="282.10" stroke="#231f20" stroke-width="0.9"/>
<line x1="183.85" y1="261.00" x2="189.85" y2="261.00" stroke="#231f20" stroke-width="0.9"/>
<line x1="183.85" y1="282.10" x2="189.85" y2="282.10" stroke="#231f20" stroke-width="0.9"/>
<rect x="180.80" y="263.80" width="12.10" height="14.50" fill="#fd8d0f" stroke="none" stroke-width="1"/>
<line x1="180.80" y1="272.50" x2="192.90" y2="272.50" stroke="#111" stroke-width="1.2"/>
<line x1="213.25" y1="277.50" x2="213.25" y2="279.70" stroke="#231f20" stroke-width="0.9"/>
<line x1="213.25" y1="286.30" x2="213.25" y2="287.40" stroke="#231f20" stroke-width="0.9"/>
<line x1="210.45" y1="277.50" x2="216.05" y2="277.50" stroke="#231f20" stroke-width="0.9"/>
<line x1="210.45" y1="287.40" x2="216.05" y2="287.40" stroke="#231f20" stroke-width="0.9"/>
<rect x="207.70" y="279.70" width="11.10" height="6.60" fill="#134f8c" stroke="none" stroke-width="1"/>
<line x1="207.70" y1="282.60" x2="218.80" y2="282.60" stroke="#111" stroke-width="1.2"/>
<line x1="226.50" y1="251.00" x2="226.50" y2="252.50" stroke="#231f20" stroke-width="0.9"/>
<line x1="226.50" y1="269.30" x2="226.50" y2="274.20" stroke="#231f20" stroke-width="0.9"/>
<line x1="223.70" y1="251.00" x2="229.30" y2="251.00" stroke="#231f20" stroke-width="0.9"/>
<line x1="223.70" y1="274.20" x2="229.30" y2="274.20" stroke="#231f20" stroke-width="0.9"/>
<rect x="221.00" y="252.50" width="11.00" height="16.80" fill="#fd8d0f" stroke="none" stroke-width="1"/>
<line x1="221.00" y1="255.40" x2="232.00" y2="255.40" stroke="#111" stroke-width="1.2"/>
<path d="M210.4,248 L210.4,245 L229.8,245 L229.8,248" stroke="#231f20" fill="none" stroke-width="0.9"/>
<path d="M219.90,239.04 L220.64,240.19 L221.95,240.53 L221.09,241.59 L221.17,242.95 L219.90,242.45 L218.63,242.95 L218.71,241.59 L217.85,240.53 L219.16,240.19 Z" stroke="none" fill="#111" stroke-width="1"/>
<rect x="245.20" y="217.90" width="5.10" height="5.00" fill="#2fb14b" stroke="none" stroke-width="1"/>
<text x="253.90" y="222.85" font-size="7.99" fill="#231f20" textLength="12.70" lengthAdjust="spacingAndGlyphs" stroke="#231f20" stroke-width="0.1">PBS</text>
<rect x="245.20" y="227.60" width="5.10" height="5.00" fill="#134f8c" stroke="none" stroke-width="1"/>
<text x="253.90" y="232.55" font-size="7.99" fill="#231f20" textLength="45.30" lengthAdjust="spacingAndGlyphs" stroke="#231f20" stroke-width="0.1"><tspan font-style="italic">PDL1</tspan>-WT-EVs</text>
<rect x="245.20" y="236.80" width="5.10" height="5.00" fill="#fd8d0f" stroke="none" stroke-width="1"/>
<text x="253.90" y="241.75" font-size="7.99" fill="#231f20" textLength="45.30" lengthAdjust="spacingAndGlyphs" stroke="#231f20" stroke-width="0.1"><tspan font-style="italic">PDL1</tspan>-KO-EVs</text>
<text x="316.00" y="167.40" font-size="11.0" fill="#000" font-weight="bold" stroke="#000" stroke-width="0.1">E</text>
<rect x="363.70" y="178.20" width="4.90" height="4.90" fill="#87a6c6" stroke="none" stroke-width="1"/>
<text x="372.00" y="182.95" font-size="7.78" fill="#231f20" textLength="24.80" lengthAdjust="spacingAndGlyphs" stroke="#231f20" stroke-width="0.1"><tspan font-style="italic">shCTRL</tspan></text>
<rect x="363.70" y="187.80" width="4.90" height="4.90" fill="#134f8c" stroke="none" stroke-width="1"/>
<text x="372.00" y="192.55" font-size="7.78" fill="#231f20" textLength="44.30" lengthAdjust="spacingAndGlyphs" stroke="#231f20" stroke-width="0.1"><tspan font-style="italic">shCTRL</tspan>+CTX</text>
<rect x="430.50" y="178.20" width="4.90" height="4.90" fill="#e8899e" stroke="none" stroke-width="1"/>
<text x="437.50" y="182.95" font-size="7.78" fill="#231f20" textLength="21.30" lengthAdjust="spacingAndGlyphs" stroke="#231f20" stroke-width="0.1"><tspan font-style="italic">shTP53</tspan></text>
<rect x="430.50" y="187.80" width="4.90" height="4.90" fill="#c8102e" stroke="none" stroke-width="1"/>
<text x="437.50" y="192.55" font-size="7.78" fill="#231f20" textLength="42.00" lengthAdjust="spacingAndGlyphs" stroke="#231f20" stroke-width="0.1"><tspan font-style="italic">shTP53</tspan>+CTX</text>
<defs><clipPath id="eclip"><rect x="330.7" y="203.3" width="83.6" height="94.7"/></clipPath></defs>
<g clip-path="url(#eclip)">
<path d="M350.00,236.40 C350.67,236.35 352.77,236.40 354.00,236.10 C355.23,235.80 356.38,235.42 357.40,234.60 C358.42,233.78 359.43,232.77 360.10,231.20 C360.77,229.63 361.07,226.87 361.40,225.20 C361.73,223.53 361.75,222.02 362.10,221.20 C362.45,220.38 363.17,220.75 363.50,220.30 C363.83,219.85 363.83,219.32 364.10,218.50 C364.37,217.68 364.70,216.02 365.10,215.40 C365.50,214.78 366.12,215.18 366.50,214.80 C366.88,214.42 367.15,213.67 367.40,213.10 C367.65,212.53 367.82,211.83 368.00,211.40 C368.18,210.97 368.33,210.45 368.50,210.50 C368.67,210.55 368.83,211.22 369.00,211.70 C369.17,212.18 369.25,212.95 369.50,213.40 C369.75,213.85 370.17,214.12 370.50,214.40 C370.83,214.68 371.17,214.70 371.50,215.10 C371.83,215.50 372.22,216.07 372.50,216.80 C372.78,217.53 372.97,218.55 373.20,219.50 C373.43,220.45 373.62,221.43 373.90,222.50 C374.18,223.57 374.50,224.78 374.90,225.90 C375.30,227.02 375.73,228.08 376.30,229.20 C376.87,230.32 377.63,231.63 378.30,232.60 C378.97,233.57 379.52,234.42 380.30,235.00 C381.08,235.58 382.05,235.87 383.00,236.10 C383.95,236.33 385.50,236.35 386.00,236.40 L386.00,236.50 L350.00,236.50 Z" stroke="none" fill="#c8102e" stroke-width="1" fill-opacity="0.75"/>
<path d="M350.00,252.20 C350.63,252.08 352.58,252.40 353.80,251.50 C355.02,250.60 356.33,249.12 357.30,246.80 C358.27,244.48 358.93,240.48 359.60,237.60 C360.27,234.72 360.73,231.52 361.30,229.50 C361.87,227.48 362.52,226.37 363.00,225.50 C363.48,224.63 363.70,224.02 364.20,224.30 C364.70,224.58 365.42,225.75 366.00,227.20 C366.58,228.65 367.03,230.68 367.70,233.00 C368.37,235.32 369.03,238.50 370.00,241.10 C370.97,243.70 372.17,246.87 373.50,248.60 C374.83,250.33 376.42,250.90 378.00,251.50 C379.58,252.10 382.17,252.08 383.00,252.20 L383.00,252.20 L350.00,252.20 Z" stroke="none" fill="#c8102e" stroke-width="1" fill-opacity="0.3"/>
<path d="M344.00,267.90 C344.58,267.85 346.25,268.10 347.50,267.60 C348.75,267.10 350.27,266.58 351.50,264.90 C352.73,263.22 353.88,260.30 354.90,257.50 C355.92,254.70 356.82,250.45 357.60,248.10 C358.38,245.75 359.00,244.42 359.60,243.40 C360.20,242.38 360.63,241.90 361.20,242.00 C361.77,242.10 362.42,242.53 363.00,244.00 C363.58,245.47 364.03,248.33 364.70,250.80 C365.37,253.27 366.17,256.45 367.00,258.80 C367.83,261.15 368.68,263.43 369.70,264.90 C370.72,266.37 371.88,267.10 373.10,267.60 C374.32,268.10 376.35,267.85 377.00,267.90 L377.00,267.90 L344.00,267.90 Z" stroke="none" fill="#0f467f" stroke-width="1" fill-opacity="0.88"/>
<path d="M346.00,283.30 C346.70,283.22 348.93,283.52 350.20,282.80 C351.47,282.08 352.60,280.75 353.60,279.00 C354.60,277.25 355.32,274.87 356.20,272.30 C357.08,269.73 358.00,265.95 358.90,263.60 C359.80,261.25 360.92,259.40 361.60,258.20 C362.28,257.00 362.43,256.30 363.00,256.40 C363.57,256.50 364.22,257.05 365.00,258.80 C365.78,260.55 366.80,264.32 367.70,266.90 C368.60,269.48 369.50,272.17 370.40,274.30 C371.30,276.43 372.20,278.28 373.10,279.70 C374.00,281.12 374.65,282.20 375.80,282.80 C376.95,283.40 379.30,283.22 380.00,283.30 L380.00,283.30 L346.00,283.30 Z" stroke="none" fill="#134f8c" stroke-width="1" fill-opacity="0.3"/>
<line x1="357.90" y1="203.30" x2="357.90" y2="298.00" stroke="#7a7a7a" stroke-width="1.0" stroke-dasharray="2.5,1.5,78,2,3,2,4"/>
<path d="M330.7,236.50 L350.00,236.40 C350.67,236.35 352.77,236.40 354.00,236.10 C355.23,235.80 356.38,235.42 357.40,234.60 C358.42,233.78 359.43,232.77 360.10,231.20 C360.77,229.63 361.07,226.87 361.40,225.20 C361.73,223.53 361.75,222.02 362.10,221.20 C362.45,220.38 363.17,220.75 363.50,220.30 C363.83,219.85 363.83,219.32 364.10,218.50 C364.37,217.68 364.70,216.02 365.10,215.40 C365.50,214.78 366.12,215.18 366.50,214.80 C366.88,214.42 367.15,213.67 367.40,213.10 C367.65,212.53 367.82,211.83 368.00,211.40 C368.18,210.97 368.33,210.45 368.50,210.50 C368.67,210.55 368.83,211.22 369.00,211.70 C369.17,212.18 369.25,212.95 369.50,213.40 C369.75,213.85 370.17,214.12 370.50,214.40 C370.83,214.68 371.17,214.70 371.50,215.10 C371.83,215.50 372.22,216.07 372.50,216.80 C372.78,217.53 372.97,218.55 373.20,219.50 C373.43,220.45 373.62,221.43 373.90,222.50 C374.18,223.57 374.50,224.78 374.90,225.90 C375.30,227.02 375.73,228.08 376.30,229.20 C376.87,230.32 377.63,231.63 378.30,232.60 C378.97,233.57 379.52,234.42 380.30,235.00 C381.08,235.58 382.05,235.87 383.00,236.10 C383.95,236.33 385.50,236.35 386.00,236.40 L414.3,236.50" stroke="#c8102e" fill="none" stroke-width="1.0"/>
<path d="M330.7,252.20 L350.00,252.20 C350.63,252.08 352.58,252.40 353.80,251.50 C355.02,250.60 356.33,249.12 357.30,246.80 C358.27,244.48 358.93,240.48 359.60,237.60 C360.27,234.72 360.73,231.52 361.30,229.50 C361.87,227.48 362.52,226.37 363.00,225.50 C363.48,224.63 363.70,224.02 364.20,224.30 C364.70,224.58 365.42,225.75 366.00,227.20 C366.58,228.65 367.03,230.68 367.70,233.00 C368.37,235.32 369.03,238.50 370.00,241.10 C370.97,243.70 372.17,246.87 373.50,248.60 C374.83,250.33 376.42,250.90 378.00,251.50 C379.58,252.10 382.17,252.08 383.00,252.20 L414.3,252.20" stroke="#c8102e" fill="none" stroke-width="1.0"/>
<path d="M330.7,267.90 L344.00,267.90 C344.58,267.85 346.25,268.10 347.50,267.60 C348.75,267.10 350.27,266.58 351.50,264.90 C352.73,263.22 353.88,260.30 354.90,257.50 C355.92,254.70 356.82,250.45 357.60,248.10 C358.38,245.75 359.00,244.42 359.60,243.40 C360.20,242.38 360.63,241.90 361.20,242.00 C361.77,242.10 362.42,242.53 363.00,244.00 C363.58,245.47 364.03,248.33 364.70,250.80 C365.37,253.27 366.17,256.45 367.00,258.80 C367.83,261.15 368.68,263.43 369.70,264.90 C370.72,266.37 371.88,267.10 373.10,267.60 C374.32,268.10 376.35,267.85 377.00,267.90 L414.3,267.90" stroke="#134f8c" fill="none" stroke-width="1.0"/>
<path d="M330.7,283.30 L346.00,283.30 C346.70,283.22 348.93,283.52 350.20,282.80 C351.47,282.08 352.60,280.75 353.60,279.00 C354.60,277.25 355.32,274.87 356.20,272.30 C357.08,269.73 358.00,265.95 358.90,263.60 C359.80,261.25 360.92,259.40 361.60,258.20 C362.28,257.00 362.43,256.30 363.00,256.40 C363.57,256.50 364.22,257.05 365.00,258.80 C365.78,260.55 366.80,264.32 367.70,266.90 C368.60,269.48 369.50,272.17 370.40,274.30 C371.30,276.43 372.20,278.28 373.10,279.70 C374.00,281.12 374.65,282.20 375.80,282.80 C376.95,283.40 379.30,283.22 380.00,283.30 L414.3,283.30" stroke="#134f8c" fill="none" stroke-width="1.0"/>
<path d="M348.8,297.9 L357.6,270.3 L367,297.9" stroke="#1d5592" fill="none" stroke-width="1.1" stroke-dasharray="2.2,1.6"/>
<line x1="330.70" y1="297.60" x2="414.30" y2="297.60" stroke="#5b8fc9" stroke-width="1.1" stroke-dasharray="1.5,1"/>
</g>
<rect x="330.70" y="203.30" width="83.60" height="94.70" fill="none" stroke="#231f20" stroke-width="1"/>
<text x="410.50" y="294.20" font-size="7.78" fill="#231f20" text-anchor="end" textLength="24.50" lengthAdjust="spacingAndGlyphs" stroke="#231f20" stroke-width="0.1">Isotype</text>
<line x1="321.50" y1="207.00" x2="321.50" y2="234.50" stroke="#231f20" stroke-width="1"/>
<line x1="321.50" y1="269.50" x2="321.50" y2="300.60" stroke="#231f20" stroke-width="1"/>
<path d="M321.5,203.8 L319,209 L324,209 Z" stroke="none" fill="#000" stroke-width="1"/>
<text x="325.20" y="252.00" font-size="9.0" fill="#231f20" text-anchor="middle" textLength="32.70" lengthAdjust="spacingAndGlyphs" stroke="#231f20" stroke-width="0.1" transform="rotate(-90 325.20 252.00)">Cell count</text>
<line x1="330.70" y1="305.40" x2="362.00" y2="305.40" stroke="#231f20" stroke-width="1"/>
<line x1="381.50" y1="305.40" x2="410.00" y2="305.40" stroke="#231f20" stroke-width="1"/>
<path d="M414,305.4 L408.8,302.9 L408.8,307.9 Z" stroke="none" fill="#000" stroke-width="1"/>
<text x="371.90" y="308.60" font-size="8.6" fill="#231f20" text-anchor="middle" textLength="17.50" lengthAdjust="spacingAndGlyphs" stroke="#231f20" stroke-width="0.1">PDL1</text>
<line x1="458.50" y1="201.00" x2="458.50" y2="300.20" stroke="#1a1a1a" stroke-width="1.2"/>
<line x1="458.50" y1="300.20" x2="513.30" y2="300.20" stroke="#1a1a1a" stroke-width="1.2"/>
<line x1="455.50" y1="268.70" x2="458.50" y2="268.70" stroke="#231f20" stroke-width="0.9"/>
<text x="451.90" y="271.65" font-size="8.3" fill="#231f20" text-anchor="end" textLength="8.70" lengthAdjust="spacingAndGlyphs" stroke="#231f20" stroke-width="0.1">40</text>
<line x1="455.50" y1="237.00" x2="458.50" y2="237.00" stroke="#231f20" stroke-width="0.9"/>
<text x="451.90" y="239.95" font-size="8.3" fill="#231f20" text-anchor="end" textLength="8.70" lengthAdjust="spacingAndGlyphs" stroke="#231f20" stroke-width="0.1">80</text>
<line x1="455.50" y1="205.30" x2="458.50" y2="205.30" stroke="#231f20" stroke-width="0.9"/>
<text x="451.90" y="208.25" font-size="8.3" fill="#231f20" text-anchor="end" textLength="11.70" lengthAdjust="spacingAndGlyphs" stroke="#231f20" stroke-width="0.1">120</text>
<text x="434.00" y="250.60" font-size="9.0" fill="#231f20" text-anchor="middle" textLength="69.90" lengthAdjust="spacingAndGlyphs" stroke="#231f20" stroke-width="0.1" transform="rotate(-90 434.00 250.60)">% Protein expression</text>
<line x1="467.85" y1="243.30" x2="467.85" y2="251.90" stroke="#231f20" stroke-width="0.9"/>
<line x1="467.85" y1="293.00" x2="467.85" y2="295.00" stroke="#231f20" stroke-width="0.9"/>
<line x1="465.60" y1="243.30" x2="470.10" y2="243.30" stroke="#231f20" stroke-width="0.9"/>
<line x1="465.60" y1="295.00" x2="470.10" y2="295.00" stroke="#231f20" stroke-width="0.9"/>
<rect x="463.80" y="251.90" width="8.10" height="41.10" fill="#87a6c6" stroke="none" stroke-width="1"/>
<line x1="463.80" y1="285.00" x2="471.90" y2="285.00" stroke="#111" stroke-width="1.2"/>
<line x1="478.35" y1="237.30" x2="478.35" y2="247.30" stroke="#231f20" stroke-width="0.9"/>
<line x1="478.35" y1="294.00" x2="478.35" y2="298.30" stroke="#231f20" stroke-width="0.9"/>
<line x1="476.10" y1="237.30" x2="480.60" y2="237.30" stroke="#231f20" stroke-width="0.9"/>
<line x1="476.10" y1="298.30" x2="480.60" y2="298.30" stroke="#231f20" stroke-width="0.9"/>
<rect x="474.20" y="247.30" width="8.30" height="46.70" fill="#134f8c" stroke="none" stroke-width="1"/>
<line x1="474.20" y1="284.40" x2="482.50" y2="284.40" stroke="#111" stroke-width="1.2"/>
<line x1="492.60" y1="222.90" x2="492.60" y2="235.40" stroke="#231f20" stroke-width="0.9"/>
<line x1="492.60" y1="282.90" x2="492.60" y2="289.20" stroke="#231f20" stroke-width="0.9"/>
<line x1="490.35" y1="222.90" x2="494.85" y2="222.90" stroke="#231f20" stroke-width="0.9"/>
<line x1="490.35" y1="289.20" x2="494.85" y2="289.20" stroke="#231f20" stroke-width="0.9"/>
<rect x="488.30" y="235.40" width="8.60" height="47.50" fill="#e8899e" stroke="none" stroke-width="1"/>
<line x1="488.30" y1="270.40" x2="496.90" y2="270.40" stroke="#111" stroke-width="1.2"/>
<line x1="503.15" y1="232.50" x2="503.15" y2="244.60" stroke="#231f20" stroke-width="0.9"/>
<line x1="503.15" y1="282.90" x2="503.15" y2="285.80" stroke="#231f20" stroke-width="0.9"/>
<line x1="500.90" y1="232.50" x2="505.40" y2="232.50" stroke="#231f20" stroke-width="0.9"/>
<line x1="500.90" y1="285.80" x2="505.40" y2="285.80" stroke="#231f20" stroke-width="0.9"/>
<rect x="498.80" y="244.60" width="8.70" height="38.30" fill="#c8102e" stroke="none" stroke-width="1"/>
<line x1="498.80" y1="258.50" x2="507.50" y2="258.50" stroke="#111" stroke-width="1.2"/>
<path d="M462.7,210.5 L462.7,208 L506,208 L506,210.5" stroke="#231f20" fill="none" stroke-width="0.9"/>
<path d="M462.7,219.5 L462.7,217 L494.4,217 L494.4,219.5" stroke="#231f20" fill="none" stroke-width="0.9"/>
<path d="M484.00,201.30 L484.72,202.41 L486.00,202.75 L485.16,203.78 L485.23,205.10 L484.00,204.62 L482.77,205.10 L482.84,203.78 L482.00,202.75 L483.28,202.41 Z" stroke="none" fill="#111" stroke-width="1"/>
<path d="M478.00,210.30 L478.72,211.41 L480.00,211.75 L479.16,212.78 L479.23,214.10 L478.00,213.62 L476.77,214.10 L476.84,212.78 L476.00,211.75 L477.28,211.41 Z" stroke="none" fill="#111" stroke-width="1"/>
<text x="7.30" y="337.40" font-size="11.0" fill="#000" font-weight="bold" stroke="#000" stroke-width="0.1">F</text>
<line x1="39.80" y1="345.50" x2="39.80" y2="443.30" stroke="#1a1a1a" stroke-width="1.2"/>
<line x1="39.80" y1="443.30" x2="208.90" y2="443.30" stroke="#1a1a1a" stroke-width="1.2"/>
<line x1="36.80" y1="424.71" x2="39.80" y2="424.71" stroke="#231f20" stroke-width="0.9"/>
<text x="34.20" y="427.66" font-size="8.3" fill="#231f20" text-anchor="end" textLength="9.00" lengthAdjust="spacingAndGlyphs" stroke="#231f20" stroke-width="0.1">20</text>
<line x1="36.80" y1="406.12" x2="39.80" y2="406.12" stroke="#231f20" stroke-width="0.9"/>
<text x="34.20" y="409.07" font-size="8.3" fill="#231f20" text-anchor="end" textLength="9.00" lengthAdjust="spacingAndGlyphs" stroke="#231f20" stroke-width="0.1">40</text>
<line x1="36.80" y1="387.53" x2="39.80" y2="387.53" stroke="#231f20" stroke-width="0.9"/>
<text x="34.20" y="390.48" font-size="8.3" fill="#231f20" text-anchor="end" textLength="9.00" lengthAdjust="spacingAndGlyphs" stroke="#231f20" stroke-width="0.1">60</text>
<line x1="36.80" y1="368.94" x2="39.80" y2="368.94" stroke="#231f20" stroke-width="0.9"/>
<text x="34.20" y="371.89" font-size="8.3" fill="#231f20" text-anchor="end" textLength="9.00" lengthAdjust="spacingAndGlyphs" stroke="#231f20" stroke-width="0.1">80</text>
<line x1="36.80" y1="350.35" x2="39.80" y2="350.35" stroke="#231f20" stroke-width="0.9"/>
<text x="34.20" y="353.30" font-size="8.3" fill="#231f20" text-anchor="end" textLength="12.50" lengthAdjust="spacingAndGlyphs" stroke="#231f20" stroke-width="0.1">100</text>
<text x="15.00" y="395.30" font-size="9.0" fill="#231f20" text-anchor="middle" textLength="31.40" lengthAdjust="spacingAndGlyphs" stroke="#231f20" stroke-width="0.1" transform="rotate(-90 15.00 395.30)">ADCP (%)</text>
<line x1="63.30" y1="443.30" x2="63.30" y2="445.50" stroke="#231f20" stroke-width="0.9"/>
<line x1="104.30" y1="443.30" x2="104.30" y2="445.50" stroke="#231f20" stroke-width="0.9"/>
<line x1="144.40" y1="443.30" x2="144.40" y2="445.50" stroke="#231f20" stroke-width="0.9"/>
<line x1="184.90" y1="443.30" x2="184.90" y2="445.50" stroke="#231f20" stroke-width="0.9"/>
<text x="32.20" y="455.60" font-size="7.56" fill="#231f20" text-anchor="middle" textLength="15.00" lengthAdjust="spacingAndGlyphs" stroke="#231f20" stroke-width="0.1">CTX</text>
<text x="63.30" y="455.70" font-size="7.34" fill="#231f20" text-anchor="middle" stroke="#231f20" stroke-width="0.1">–</text>
<text x="104.00" y="455.70" font-size="7.34" fill="#231f20" text-anchor="middle" stroke="#231f20" stroke-width="0.1">+</text>
<text x="144.40" y="455.70" font-size="7.34" fill="#231f20" text-anchor="middle" stroke="#231f20" stroke-width="0.1">–</text>
<text x="184.70" y="455.70" font-size="7.34" fill="#231f20" text-anchor="middle" stroke="#231f20" stroke-width="0.1">+</text>
<text x="83.10" y="343.80" font-size="7.78" fill="#231f20" text-anchor="middle" font-style="italic" textLength="27.50" lengthAdjust="spacingAndGlyphs" stroke="#231f20" stroke-width="0.1">shCTRL</text>
<text x="166.30" y="343.60" font-size="7.78" fill="#231f20" text-anchor="middle" font-style="italic" textLength="26.50" lengthAdjust="spacingAndGlyphs" stroke="#231f20" stroke-width="0.1">shTP53</text>
<line x1="52.30" y1="347.20" x2="113.90" y2="347.20" stroke="#3a3a3a" stroke-width="1.1"/>
<line x1="135.60" y1="347.20" x2="197.00" y2="347.20" stroke="#3a3a3a" stroke-width="1.1"/>
<path d="M54.4,363 L54.4,360.3 L70.2,360.3 L70.2,363" stroke="#231f20" fill="none" stroke-width="0.9"/>
<path d="M95.2,363 L95.2,360.3 L111.1,360.3 L111.1,363" stroke="#231f20" fill="none" stroke-width="0.9"/>
<path d="M137.3,363 L137.3,360.3 L153.6,360.3 L153.6,363" stroke="#231f20" fill="none" stroke-width="0.9"/>
<path d="M176.5,363 L176.5,360.3 L192.6,360.3 L192.6,363" stroke="#231f20" fill="none" stroke-width="0.9"/>
<path d="M62.30,353.20 L63.02,354.31 L64.30,354.65 L63.46,355.68 L63.53,357.00 L62.30,356.52 L61.07,357.00 L61.14,355.68 L60.30,354.65 L61.58,354.31 Z" stroke="none" fill="#111" stroke-width="1"/>
<path d="M96.67,353.20 L97.39,354.31 L98.67,354.65 L97.83,355.68 L97.91,357.00 L96.67,356.52 L95.44,357.00 L95.52,355.68 L94.68,354.65 L95.96,354.31 Z" stroke="none" fill="#111" stroke-width="1"/>
<path d="M101.03,353.20 L101.74,354.31 L103.02,354.65 L102.18,355.68 L102.26,357.00 L101.03,356.52 L99.79,357.00 L99.87,355.68 L99.03,354.65 L100.31,354.31 Z" stroke="none" fill="#111" stroke-width="1"/>
<path d="M105.38,353.20 L106.09,354.31 L107.37,354.65 L106.53,355.68 L106.61,357.00 L105.38,356.52 L104.14,357.00 L104.22,355.68 L103.38,354.65 L104.66,354.31 Z" stroke="none" fill="#111" stroke-width="1"/>
<path d="M109.73,353.20 L110.44,354.31 L111.72,354.65 L110.88,355.68 L110.96,357.00 L109.73,356.52 L108.49,357.00 L108.57,355.68 L107.73,354.65 L109.01,354.31 Z" stroke="none" fill="#111" stroke-width="1"/>
<path d="M141.05,353.20 L141.77,354.31 L143.05,354.65 L142.21,355.68 L142.28,357.00 L141.05,356.52 L139.82,357.00 L139.89,355.68 L139.05,354.65 L140.33,354.31 Z" stroke="none" fill="#111" stroke-width="1"/>
<path d="M145.40,353.20 L146.12,354.31 L147.40,354.65 L146.56,355.68 L146.63,357.00 L145.40,356.52 L144.17,357.00 L144.24,355.68 L143.40,354.65 L144.68,354.31 Z" stroke="none" fill="#111" stroke-width="1"/>
<path d="M149.75,353.20 L150.47,354.31 L151.75,354.65 L150.91,355.68 L150.98,357.00 L149.75,356.52 L148.52,357.00 L148.59,355.68 L147.75,354.65 L149.03,354.31 Z" stroke="none" fill="#111" stroke-width="1"/>
<path d="M180.25,353.20 L180.97,354.31 L182.25,354.65 L181.41,355.68 L181.48,357.00 L180.25,356.52 L179.02,357.00 L179.09,355.68 L178.25,354.65 L179.53,354.31 Z" stroke="none" fill="#111" stroke-width="1"/>
<path d="M184.60,353.20 L185.32,354.31 L186.60,354.65 L185.76,355.68 L185.83,357.00 L184.60,356.52 L183.37,357.00 L183.44,355.68 L182.60,354.65 L183.88,354.31 Z" stroke="none" fill="#111" stroke-width="1"/>
<path d="M188.95,353.20 L189.67,354.31 L190.95,354.65 L190.11,355.68 L190.18,357.00 L188.95,356.52 L187.72,357.00 L187.79,355.68 L186.95,354.65 L188.23,354.31 Z" stroke="none" fill="#111" stroke-width="1"/>
<line x1="56.80" y1="399.40" x2="56.80" y2="405.50" stroke="#231f20" stroke-width="0.9"/>
<line x1="56.80" y1="413.60" x2="56.80" y2="415.60" stroke="#231f20" stroke-width="0.9"/>
<line x1="54.05" y1="399.40" x2="59.55" y2="399.40" stroke="#231f20" stroke-width="0.9"/>
<line x1="54.05" y1="415.60" x2="59.55" y2="415.60" stroke="#231f20" stroke-width="0.9"/>
<rect x="51.00" y="405.50" width="11.60" height="8.10" fill="#134f8c" stroke="none" stroke-width="1"/>
<line x1="51.00" y1="412.80" x2="62.60" y2="412.80" stroke="#111" stroke-width="1.2"/>
<line x1="70.10" y1="383.90" x2="70.10" y2="384.70" stroke="#231f20" stroke-width="0.9"/>
<line x1="70.10" y1="411.70" x2="70.10" y2="415.60" stroke="#231f20" stroke-width="0.9"/>
<line x1="67.35" y1="383.90" x2="72.85" y2="383.90" stroke="#231f20" stroke-width="0.9"/>
<line x1="67.35" y1="415.60" x2="72.85" y2="415.60" stroke="#231f20" stroke-width="0.9"/>
<rect x="64.20" y="384.70" width="11.80" height="27.00" fill="#fd8d0f" stroke="none" stroke-width="1"/>
<line x1="64.20" y1="388.30" x2="76.00" y2="388.30" stroke="#111" stroke-width="1.2"/>
<line x1="97.05" y1="397.30" x2="97.05" y2="401.90" stroke="#231f20" stroke-width="0.9"/>
<line x1="97.05" y1="411.20" x2="97.05" y2="412.80" stroke="#231f20" stroke-width="0.9"/>
<line x1="94.30" y1="397.30" x2="99.80" y2="397.30" stroke="#231f20" stroke-width="0.9"/>
<line x1="94.30" y1="412.80" x2="99.80" y2="412.80" stroke="#231f20" stroke-width="0.9"/>
<rect x="91.20" y="401.90" width="11.70" height="9.30" fill="#134f8c" stroke="none" stroke-width="1"/>
<line x1="91.20" y1="407.40" x2="102.90" y2="407.40" stroke="#111" stroke-width="1.2"/>
<line x1="110.55" y1="365.80" x2="110.55" y2="367.10" stroke="#231f20" stroke-width="0.9"/>
<line x1="110.55" y1="369.20" x2="110.55" y2="369.80" stroke="#231f20" stroke-width="0.9"/>
<line x1="107.80" y1="365.80" x2="113.30" y2="365.80" stroke="#231f20" stroke-width="0.9"/>
<line x1="107.80" y1="369.80" x2="113.30" y2="369.80" stroke="#231f20" stroke-width="0.9"/>
<rect x="104.60" y="367.10" width="11.90" height="2.10" fill="#fd8d0f" stroke="none" stroke-width="1"/>
<line x1="104.60" y1="368.20" x2="116.50" y2="368.20" stroke="#111" stroke-width="1.2"/>
<line x1="137.85" y1="415.60" x2="137.85" y2="416.90" stroke="#231f20" stroke-width="0.9"/>
<line x1="137.85" y1="419.40" x2="137.85" y2="420.70" stroke="#231f20" stroke-width="0.9"/>
<line x1="135.10" y1="415.60" x2="140.60" y2="415.60" stroke="#231f20" stroke-width="0.9"/>
<line x1="135.10" y1="420.70" x2="140.60" y2="420.70" stroke="#231f20" stroke-width="0.9"/>
<rect x="131.90" y="416.90" width="11.90" height="2.50" fill="#134f8c" stroke="none" stroke-width="1"/>
<line x1="131.90" y1="418.20" x2="143.80" y2="418.20" stroke="#111" stroke-width="1.2"/>
<line x1="151.00" y1="385.40" x2="151.00" y2="387.80" stroke="#231f20" stroke-width="0.9"/>
<line x1="151.00" y1="393.50" x2="151.00" y2="396.50" stroke="#231f20" stroke-width="0.9"/>
<line x1="148.25" y1="385.40" x2="153.75" y2="385.40" stroke="#231f20" stroke-width="0.9"/>
<line x1="148.25" y1="396.50" x2="153.75" y2="396.50" stroke="#231f20" stroke-width="0.9"/>
<rect x="145.10" y="387.80" width="11.80" height="5.70" fill="#fd8d0f" stroke="none" stroke-width="1"/>
<line x1="145.10" y1="391.30" x2="156.90" y2="391.30" stroke="#111" stroke-width="1.2"/>
<line x1="178.10" y1="414.50" x2="178.10" y2="415.90" stroke="#231f20" stroke-width="0.9"/>
<line x1="178.10" y1="417.20" x2="178.10" y2="419.40" stroke="#231f20" stroke-width="0.9"/>
<line x1="175.35" y1="414.50" x2="180.85" y2="414.50" stroke="#231f20" stroke-width="0.9"/>
<line x1="175.35" y1="419.40" x2="180.85" y2="419.40" stroke="#231f20" stroke-width="0.9"/>
<rect x="172.40" y="415.90" width="11.40" height="1.30" fill="#134f8c" stroke="none" stroke-width="1"/>
<line x1="172.40" y1="416.40" x2="183.80" y2="416.40" stroke="#111" stroke-width="1.2"/>
<line x1="191.75" y1="384.60" x2="191.75" y2="386.70" stroke="#231f20" stroke-width="0.9"/>
<line x1="191.75" y1="394.90" x2="191.75" y2="397.00" stroke="#231f20" stroke-width="0.9"/>
<line x1="189.00" y1="384.60" x2="194.50" y2="384.60" stroke="#231f20" stroke-width="0.9"/>
<line x1="189.00" y1="397.00" x2="194.50" y2="397.00" stroke="#231f20" stroke-width="0.9"/>
<rect x="185.80" y="386.70" width="11.90" height="8.20" fill="#fd8d0f" stroke="none" stroke-width="1"/>
<line x1="185.80" y1="387.80" x2="197.70" y2="387.80" stroke="#111" stroke-width="1.2"/>
<rect x="212.90" y="351.40" width="5.00" height="5.00" fill="#134f8c" stroke="none" stroke-width="1"/>
<text x="221.80" y="356.40" font-size="7.78" fill="#231f20" textLength="24.20" lengthAdjust="spacingAndGlyphs" stroke="#231f20" stroke-width="0.1">Vehicle</text>
<rect x="212.90" y="360.10" width="5.00" height="5.00" fill="#fd8d0f" stroke="none" stroke-width="1"/>
<text x="221.80" y="365.10" font-size="7.78" fill="#231f20" textLength="29.60" lengthAdjust="spacingAndGlyphs" stroke="#231f20" stroke-width="0.1">Anti-PD1</text>
<text x="284.00" y="337.40" font-size="11.0" fill="#000" font-weight="bold" stroke="#000" stroke-width="0.1">G</text>
<line x1="316.80" y1="346.60" x2="316.80" y2="442.30" stroke="#1a1a1a" stroke-width="1.2"/>
<line x1="316.80" y1="442.30" x2="468.20" y2="442.30" stroke="#1a1a1a" stroke-width="1.2"/>
<line x1="313.60" y1="355.30" x2="316.80" y2="355.30" stroke="#231f20" stroke-width="0.9"/>
<text x="312.40" y="358.30" font-size="9.29" fill="#231f20" text-anchor="end" textLength="13.20" lengthAdjust="spacingAndGlyphs" stroke="#231f20" stroke-width="0.1">100</text>
<line x1="313.60" y1="398.80" x2="316.80" y2="398.80" stroke="#231f20" stroke-width="0.9"/>
<text x="312.40" y="401.80" font-size="9.29" fill="#231f20" text-anchor="end" textLength="8.50" lengthAdjust="spacingAndGlyphs" stroke="#231f20" stroke-width="0.1">50</text>
<line x1="316.80" y1="442.30" x2="316.80" y2="445.00" stroke="#231f20" stroke-width="0.9"/>
<text x="316.80" y="455.00" font-size="9.29" fill="#231f20" text-anchor="middle" textLength="4.40" lengthAdjust="spacingAndGlyphs" stroke="#231f20" stroke-width="0.1">0</text>
<line x1="346.36" y1="442.30" x2="346.36" y2="445.00" stroke="#231f20" stroke-width="0.9"/>
<text x="346.36" y="455.00" font-size="9.29" fill="#231f20" text-anchor="middle" textLength="4.40" lengthAdjust="spacingAndGlyphs" stroke="#231f20" stroke-width="0.1">4</text>
<line x1="375.92" y1="442.30" x2="375.92" y2="445.00" stroke="#231f20" stroke-width="0.9"/>
<text x="375.92" y="455.00" font-size="9.29" fill="#231f20" text-anchor="middle" textLength="4.40" lengthAdjust="spacingAndGlyphs" stroke="#231f20" stroke-width="0.1">8</text>
<line x1="405.48" y1="442.30" x2="405.48" y2="445.00" stroke="#231f20" stroke-width="0.9"/>
<text x="405.48" y="455.00" font-size="9.29" fill="#231f20" text-anchor="middle" textLength="8.40" lengthAdjust="spacingAndGlyphs" stroke="#231f20" stroke-width="0.1">12</text>
<line x1="435.04" y1="442.30" x2="435.04" y2="445.00" stroke="#231f20" stroke-width="0.9"/>
<text x="435.04" y="455.00" font-size="9.29" fill="#231f20" text-anchor="middle" textLength="8.40" lengthAdjust="spacingAndGlyphs" stroke="#231f20" stroke-width="0.1">16</text>
<line x1="464.60" y1="442.30" x2="464.60" y2="445.00" stroke="#231f20" stroke-width="0.9"/>
<text x="464.60" y="455.00" font-size="9.29" fill="#231f20" text-anchor="middle" textLength="8.40" lengthAdjust="spacingAndGlyphs" stroke="#231f20" stroke-width="0.1">20</text>
<text x="392.60" y="466.60" font-size="9.07" fill="#231f20" text-anchor="middle" textLength="66.80" lengthAdjust="spacingAndGlyphs" stroke="#231f20" stroke-width="0.1">Days post-treatment</text>
<text x="293.30" y="394.10" font-size="9.07" fill="#231f20" text-anchor="middle" textLength="52.80" lengthAdjust="spacingAndGlyphs" stroke="#231f20" stroke-width="0.1" transform="rotate(-90 293.30 394.10)">Percent survival</text>
<path d="M316.80,355.30 H375.92 V360.20 H390.70 V389.30 H398.09 V398.80 H412.87 V403.60 H420.26 V417.70 H427.65 V423.30 H435.04 V432.50 H442.43 V437.70 H449.82 V442.30" stroke="#f7941d" fill="none" stroke-width="1.4"/>
<path d="M316.80,355.30 H383.31 V362.20 H390.70 V391.60 H398.09 V413.10 H405.48 V420.50 H412.87 V442.30" stroke="#3ab54a" fill="none" stroke-width="1.4"/>
<path d="M316.80,355.30 H338.97 V362.10 H353.75 V381.70 H368.53 V402.40 H375.92 V422.80 H398.09 V435.50 H412.87 V442.30" stroke="#1c5a99" fill="none" stroke-width="1.4"/>
<line x1="451.60" y1="355.20" x2="461.50" y2="355.20" stroke="#1c5a99" stroke-width="1.4"/>
<line x1="451.60" y1="366.20" x2="461.50" y2="366.20" stroke="#3ab54a" stroke-width="1.4"/>
<line x1="451.60" y1="376.50" x2="461.50" y2="376.50" stroke="#f7941d" stroke-width="1.4"/>
<text x="465.00" y="357.80" font-size="7.56" fill="#231f20" textLength="23.80" lengthAdjust="spacingAndGlyphs" stroke="#231f20" stroke-width="0.1">Vehicle</text>
<text x="465.00" y="368.60" font-size="7.56" fill="#231f20" textLength="10.30" lengthAdjust="spacingAndGlyphs" stroke="#231f20" stroke-width="0.1">CA</text>
<text x="465.00" y="379.30" font-size="7.56" fill="#231f20" textLength="46.90" lengthAdjust="spacingAndGlyphs" stroke="#231f20" stroke-width="0.1">CA + anti-PD1</text>
<path d="M445.80,364.10 L446.52,365.21 L447.80,365.55 L446.96,366.58 L447.03,367.90 L445.80,367.42 L444.57,367.90 L444.64,366.58 L443.80,365.55 L445.08,365.21 Z" stroke="none" fill="#111" stroke-width="1"/>
<path d="M442.00,374.40 L442.72,375.51 L444.00,375.85 L443.16,376.88 L443.23,378.20 L442.00,377.72 L440.77,378.20 L440.84,376.88 L440.00,375.85 L441.28,375.51 Z" stroke="none" fill="#111" stroke-width="1"/>
<path d="M446.80,374.40 L447.52,375.51 L448.80,375.85 L447.96,376.88 L448.03,378.20 L446.80,377.72 L445.57,378.20 L445.64,376.88 L444.80,375.85 L446.08,375.51 Z" stroke="none" fill="#111" stroke-width="1"/>
<text x="7.30" y="497.10" font-size="11.0" fill="#000" font-weight="bold" stroke="#000" stroke-width="0.1">H</text>
<line x1="35.20" y1="510.00" x2="35.20" y2="602.40" stroke="#1a1a1a" stroke-width="1.2"/>
<line x1="35.20" y1="602.40" x2="79.60" y2="602.40" stroke="#1a1a1a" stroke-width="1.2"/>
<line x1="48.10" y1="602.40" x2="48.10" y2="604.60" stroke="#231f20" stroke-width="0.9"/>
<line x1="67.40" y1="602.40" x2="67.40" y2="604.60" stroke="#231f20" stroke-width="0.9"/>
<line x1="32.30" y1="600.40" x2="35.20" y2="600.40" stroke="#231f20" stroke-width="0.9"/>
<text x="29.50" y="603.35" font-size="8.3" fill="#231f20" text-anchor="end" textLength="4.10" lengthAdjust="spacingAndGlyphs" stroke="#231f20" stroke-width="0.1">5</text>
<line x1="32.30" y1="571.50" x2="35.20" y2="571.50" stroke="#231f20" stroke-width="0.9"/>
<text x="29.50" y="574.45" font-size="8.3" fill="#231f20" text-anchor="end" textLength="8.50" lengthAdjust="spacingAndGlyphs" stroke="#231f20" stroke-width="0.1">10</text>
<line x1="32.30" y1="542.60" x2="35.20" y2="542.60" stroke="#231f20" stroke-width="0.9"/>
<text x="29.50" y="545.55" font-size="8.3" fill="#231f20" text-anchor="end" textLength="8.50" lengthAdjust="spacingAndGlyphs" stroke="#231f20" stroke-width="0.1">15</text>
<line x1="32.30" y1="513.70" x2="35.20" y2="513.70" stroke="#231f20" stroke-width="0.9"/>
<text x="29.50" y="516.65" font-size="8.3" fill="#231f20" text-anchor="end" textLength="8.50" lengthAdjust="spacingAndGlyphs" stroke="#231f20" stroke-width="0.1">20</text>
<text x="15.10" y="556.30" font-size="9.0" fill="#231f20" text-anchor="middle" textLength="31.70" lengthAdjust="spacingAndGlyphs" stroke="#231f20" stroke-width="0.1" transform="rotate(-90 15.10 556.30)">ADCP (%)</text>
<text x="34.90" y="613.60" font-size="7.99" fill="#231f20" text-anchor="end" font-style="italic" textLength="17.60" lengthAdjust="spacingAndGlyphs" stroke="#231f20" stroke-width="0.1">PDL1</text>
<text x="48.25" y="613.60" font-size="7.99" fill="#231f20" text-anchor="middle" textLength="10.50" lengthAdjust="spacingAndGlyphs" stroke="#231f20" stroke-width="0.1">WT</text>
<text x="67.75" y="613.60" font-size="7.99" fill="#231f20" text-anchor="middle" textLength="10.30" lengthAdjust="spacingAndGlyphs" stroke="#231f20" stroke-width="0.1">KO</text>
<path d="M46.6,529.4 L46.6,526.7 L66.9,526.7 L66.9,529.4" stroke="#231f20" fill="none" stroke-width="0.9"/>
<path d="M54.40,520.10 L55.12,521.21 L56.40,521.55 L55.56,522.58 L55.63,523.90 L54.40,523.42 L53.17,523.90 L53.24,522.58 L52.40,521.55 L53.68,521.21 Z" stroke="none" fill="#111" stroke-width="1"/>
<path d="M59.30,520.10 L60.02,521.21 L61.30,521.55 L60.46,522.58 L60.53,523.90 L59.30,523.42 L58.07,523.90 L58.14,522.58 L57.30,521.55 L58.58,521.21 Z" stroke="none" fill="#111" stroke-width="1"/>
<rect x="46.2" y="564.6" width="3.8" height="3.8" fill="#134f8c" transform="rotate(45 48.1 566.5)"/>
<circle cx="45.2" cy="577.4" r="2.3" fill="#134f8c"/>
<circle cx="51.7" cy="573.8" r="2.3" fill="#134f8c"/>
<line x1="42.10" y1="572.50" x2="54.80" y2="572.50" stroke="#231f20" stroke-width="1"/>
<line x1="48.10" y1="567.40" x2="48.10" y2="578.30" stroke="#231f20" stroke-width="0.9"/>
<line x1="46.30" y1="567.40" x2="50.20" y2="567.40" stroke="#231f20" stroke-width="0.9"/>
<line x1="46.30" y1="578.30" x2="50.20" y2="578.30" stroke="#231f20" stroke-width="0.9"/>
<rect x="65.35" y="534.05" width="4.10" height="4.10" fill="#fd8d0f" stroke="none" stroke-width="1"/>
<rect x="69.05" y="539.15" width="4.10" height="4.10" fill="#fd8d0f" stroke="none" stroke-width="1"/>
<rect x="61.75" y="545.45" width="4.10" height="4.10" fill="#fd8d0f" stroke="none" stroke-width="1"/>
<line x1="61.50" y1="541.70" x2="73.80" y2="541.70" stroke="#231f20" stroke-width="1"/>
<line x1="67.40" y1="535.20" x2="67.40" y2="547.90" stroke="#231f20" stroke-width="0.9"/>
<line x1="65.50" y1="535.20" x2="69.30" y2="535.20" stroke="#231f20" stroke-width="0.9"/>
<line x1="65.50" y1="547.90" x2="69.30" y2="547.90" stroke="#231f20" stroke-width="0.9"/>
<text x="101.20" y="497.10" font-size="11.0" fill="#000" font-weight="bold" stroke="#000" stroke-width="0.1">I</text>
<rect x="151.20" y="498.20" width="4.50" height="4.50" fill="#134f8c" stroke="none" stroke-width="1"/>
<text x="158.80" y="502.80" font-size="7.56" fill="#231f20" textLength="14.10" lengthAdjust="spacingAndGlyphs" stroke="#231f20" stroke-width="0.1">CTX</text>
<rect x="179.00" y="498.20" width="4.50" height="4.50" fill="#c8102e" stroke="none" stroke-width="1"/>
<text x="186.70" y="502.80" font-size="7.56" fill="#231f20" textLength="48.30" lengthAdjust="spacingAndGlyphs" stroke="#231f20" stroke-width="0.1">CTX + α-CD52</text>
<text x="164.25" y="515.40" font-size="8.1" fill="#231f20" text-anchor="middle" textLength="36.90" lengthAdjust="spacingAndGlyphs" stroke="#231f20" stroke-width="0.1">Resistance</text>
<text x="221.90" y="515.40" font-size="8.1" fill="#231f20" text-anchor="middle" textLength="46.20" lengthAdjust="spacingAndGlyphs" stroke="#231f20" stroke-width="0.1">Phagocytosis</text>
<line x1="135.00" y1="519.80" x2="250.50" y2="519.80" stroke="#231f20" stroke-width="1.1"/>
<path d="M131.3,519.8 L136.6,517.2 L136.6,522.4 Z" stroke="none" fill="#000" stroke-width="1"/>
<path d="M254,519.8 L248.7,517.2 L248.7,522.4 Z" stroke="none" fill="#000" stroke-width="1"/>
<line x1="136.90" y1="523.30" x2="136.90" y2="601.70" stroke="#1a1a1a" stroke-width="1.2"/>
<line x1="136.90" y1="601.70" x2="251.70" y2="601.70" stroke="#1a1a1a" stroke-width="1.2"/>
<line x1="134.00" y1="535.20" x2="136.90" y2="535.20" stroke="#231f20" stroke-width="0.9"/>
<line x1="134.00" y1="563.30" x2="136.90" y2="563.30" stroke="#231f20" stroke-width="0.9"/>
<line x1="134.00" y1="591.50" x2="136.90" y2="591.50" stroke="#231f20" stroke-width="0.9"/>
<line x1="136.30" y1="601.70" x2="136.30" y2="604.00" stroke="#231f20" stroke-width="0.9"/>
<text x="135.10" y="614.00" font-size="8.2" fill="#231f20" text-anchor="middle" textLength="15.60" lengthAdjust="spacingAndGlyphs" stroke="#231f20" stroke-width="0.1">−20</text>
<line x1="164.10" y1="601.70" x2="164.10" y2="604.00" stroke="#231f20" stroke-width="0.9"/>
<text x="162.90" y="614.00" font-size="8.2" fill="#231f20" text-anchor="middle" textLength="15.60" lengthAdjust="spacingAndGlyphs" stroke="#231f20" stroke-width="0.1">−10</text>
<line x1="191.90" y1="601.70" x2="191.90" y2="604.00" stroke="#231f20" stroke-width="0.9"/>
<text x="191.90" y="614.00" font-size="8.2" fill="#231f20" text-anchor="middle" textLength="4.60" lengthAdjust="spacingAndGlyphs" stroke="#231f20" stroke-width="0.1">0</text>
<line x1="219.70" y1="601.70" x2="219.70" y2="604.00" stroke="#231f20" stroke-width="0.9"/>
<text x="219.70" y="614.00" font-size="8.2" fill="#231f20" text-anchor="middle" textLength="9.20" lengthAdjust="spacingAndGlyphs" stroke="#231f20" stroke-width="0.1">10</text>
<line x1="247.50" y1="601.70" x2="247.50" y2="604.00" stroke="#231f20" stroke-width="0.9"/>
<text x="247.50" y="614.00" font-size="8.2" fill="#231f20" text-anchor="middle" textLength="9.20" lengthAdjust="spacingAndGlyphs" stroke="#231f20" stroke-width="0.1">20</text>
<line x1="191.90" y1="523.30" x2="191.90" y2="601.70" stroke="#231f20" stroke-width="1"/>
<text x="194.10" y="627.60" font-size="8.8" fill="#231f20" text-anchor="middle" textLength="31.00" lengthAdjust="spacingAndGlyphs" stroke="#231f20" stroke-width="0.1">ADCP (%)</text>
<text x="131.00" y="532.80" font-size="7.99" fill="#231f20" text-anchor="end" font-style="italic" textLength="29.30" lengthAdjust="spacingAndGlyphs" stroke="#231f20" stroke-width="0.1">RAB27A</text>
<text x="131.00" y="542.20" font-size="7.99" fill="#231f20" text-anchor="end" textLength="11.10" lengthAdjust="spacingAndGlyphs" stroke="#231f20" stroke-width="0.1">KO</text>
<text x="131.00" y="561.00" font-size="7.99" fill="#231f20" text-anchor="end" font-style="italic" textLength="18.70" lengthAdjust="spacingAndGlyphs" stroke="#231f20" stroke-width="0.1">PDL1</text>
<text x="131.00" y="570.20" font-size="7.99" fill="#231f20" text-anchor="end" textLength="11.10" lengthAdjust="spacingAndGlyphs" stroke="#231f20" stroke-width="0.1">KO</text>
<text x="131.00" y="589.20" font-size="7.99" fill="#231f20" text-anchor="end" font-style="italic" textLength="22.40" lengthAdjust="spacingAndGlyphs" stroke="#231f20" stroke-width="0.1">Empty</text>
<text x="128.00" y="598.20" font-size="7.99" fill="#231f20" text-anchor="end" textLength="20.80" lengthAdjust="spacingAndGlyphs" stroke="#231f20" stroke-width="0.1">vector</text>
<rect x="191.90" y="526.70" width="48.37" height="7.10" fill="#c8102e" stroke="none" stroke-width="1"/>
<line x1="240.27" y1="530.25" x2="244.16" y2="530.25" stroke="#231f20" stroke-width="0.9"/>
<line x1="244.16" y1="528.55" x2="244.16" y2="531.95" stroke="#231f20" stroke-width="0.9"/>
<rect x="191.90" y="536.20" width="10.29" height="6.40" fill="#134f8c" stroke="none" stroke-width="1"/>
<line x1="202.19" y1="539.40" x2="220.26" y2="539.40" stroke="#231f20" stroke-width="0.9"/>
<line x1="220.26" y1="537.70" x2="220.26" y2="541.10" stroke="#231f20" stroke-width="0.9"/>
<rect x="191.90" y="554.60" width="35.86" height="7.10" fill="#c8102e" stroke="none" stroke-width="1"/>
<line x1="227.76" y1="558.15" x2="239.99" y2="558.15" stroke="#231f20" stroke-width="0.9"/>
<line x1="239.99" y1="556.45" x2="239.99" y2="559.85" stroke="#231f20" stroke-width="0.9"/>
<rect x="167.16" y="564.60" width="24.74" height="7.30" fill="#134f8c" stroke="none" stroke-width="1"/>
<line x1="167.16" y1="568.25" x2="159.93" y2="568.25" stroke="#231f20" stroke-width="0.9"/>
<line x1="159.93" y1="566.55" x2="159.93" y2="569.95" stroke="#231f20" stroke-width="0.9"/>
<rect x="191.90" y="583.30" width="14.46" height="6.70" fill="#c8102e" stroke="none" stroke-width="1"/>
<line x1="206.36" y1="586.65" x2="209.69" y2="586.65" stroke="#231f20" stroke-width="0.9"/>
<line x1="209.69" y1="584.95" x2="209.69" y2="588.35" stroke="#231f20" stroke-width="0.9"/>
<rect x="175.78" y="593.00" width="16.12" height="7.20" fill="#134f8c" stroke="none" stroke-width="1"/>
<line x1="175.78" y1="596.60" x2="159.65" y2="596.60" stroke="#231f20" stroke-width="0.9"/>
<line x1="159.65" y1="594.90" x2="159.65" y2="598.30" stroke="#231f20" stroke-width="0.9"/>
<line x1="191.90" y1="523.30" x2="191.90" y2="601.70" stroke="#231f20" stroke-width="1"/>
<path d="M251.3,528.5 L254.2,528.5 L254.2,587.7 L251.3,587.7" stroke="#231f20" fill="none" stroke-width="0.9"/>
<path d="M242.3,557.9 L245.2,557.9 L245.2,587.7 L242.3,587.7" stroke="#231f20" fill="none" stroke-width="0.9"/>
<path d="M259.00,550.43 L259.65,551.45 L260.83,551.76 L260.06,552.69 L260.13,553.90 L259.00,553.46 L257.87,553.90 L257.94,552.69 L257.17,551.76 L258.35,551.45 Z" stroke="none" fill="#111" stroke-width="1"/>
<path d="M259.00,554.73 L259.65,555.75 L260.83,556.06 L260.06,556.99 L260.13,558.20 L259.00,557.76 L257.87,558.20 L257.94,556.99 L257.17,556.06 L258.35,555.75 Z" stroke="none" fill="#111" stroke-width="1"/>
<path d="M259.00,559.03 L259.65,560.05 L260.83,560.36 L260.06,561.29 L260.13,562.50 L259.00,562.06 L257.87,562.50 L257.94,561.29 L257.17,560.36 L258.35,560.05 Z" stroke="none" fill="#111" stroke-width="1"/>
<path d="M259.00,563.33 L259.65,564.35 L260.83,564.66 L260.06,565.59 L260.13,566.80 L259.00,566.36 L257.87,566.80 L257.94,565.59 L257.17,564.66 L258.35,564.35 Z" stroke="none" fill="#111" stroke-width="1"/>
<path d="M249.80,569.23 L250.45,570.25 L251.63,570.56 L250.86,571.49 L250.93,572.70 L249.80,572.26 L248.67,572.70 L248.74,571.49 L247.97,570.56 L249.15,570.25 Z" stroke="none" fill="#111" stroke-width="1"/>
<path d="M249.80,573.53 L250.45,574.55 L251.63,574.86 L250.86,575.79 L250.93,577.00 L249.80,576.56 L248.67,577.00 L248.74,575.79 L247.97,574.86 L249.15,574.55 Z" stroke="none" fill="#111" stroke-width="1"/>
<text x="283.80" y="497.10" font-size="11.0" fill="#000" font-weight="bold" stroke="#000" stroke-width="0.1">J</text>
<line x1="315.80" y1="508.10" x2="315.80" y2="602.00" stroke="#1a1a1a" stroke-width="1.2"/>
<line x1="315.80" y1="602.00" x2="468.90" y2="602.00" stroke="#1a1a1a" stroke-width="1.2"/>
<line x1="312.60" y1="516.60" x2="315.80" y2="516.60" stroke="#231f20" stroke-width="0.9"/>
<text x="311.40" y="519.60" font-size="9.29" fill="#231f20" text-anchor="end" textLength="13.20" lengthAdjust="spacingAndGlyphs" stroke="#231f20" stroke-width="0.1">100</text>
<line x1="312.60" y1="560.20" x2="315.80" y2="560.20" stroke="#231f20" stroke-width="0.9"/>
<text x="311.40" y="563.20" font-size="9.29" fill="#231f20" text-anchor="end" textLength="8.50" lengthAdjust="spacingAndGlyphs" stroke="#231f20" stroke-width="0.1">50</text>
<line x1="315.80" y1="602.00" x2="315.80" y2="604.70" stroke="#231f20" stroke-width="0.9"/>
<text x="315.80" y="615.00" font-size="9.29" fill="#231f20" text-anchor="middle" textLength="4.40" lengthAdjust="spacingAndGlyphs" stroke="#231f20" stroke-width="0.1">0</text>
<line x1="345.68" y1="602.00" x2="345.68" y2="604.70" stroke="#231f20" stroke-width="0.9"/>
<text x="345.68" y="615.00" font-size="9.29" fill="#231f20" text-anchor="middle" textLength="4.40" lengthAdjust="spacingAndGlyphs" stroke="#231f20" stroke-width="0.1">4</text>
<line x1="375.56" y1="602.00" x2="375.56" y2="604.70" stroke="#231f20" stroke-width="0.9"/>
<text x="375.56" y="615.00" font-size="9.29" fill="#231f20" text-anchor="middle" textLength="4.40" lengthAdjust="spacingAndGlyphs" stroke="#231f20" stroke-width="0.1">8</text>
<line x1="405.44" y1="602.00" x2="405.44" y2="604.70" stroke="#231f20" stroke-width="0.9"/>
<text x="405.44" y="615.00" font-size="9.29" fill="#231f20" text-anchor="middle" textLength="8.40" lengthAdjust="spacingAndGlyphs" stroke="#231f20" stroke-width="0.1">12</text>
<line x1="435.32" y1="602.00" x2="435.32" y2="604.70" stroke="#231f20" stroke-width="0.9"/>
<text x="435.32" y="615.00" font-size="9.29" fill="#231f20" text-anchor="middle" textLength="8.40" lengthAdjust="spacingAndGlyphs" stroke="#231f20" stroke-width="0.1">16</text>
<line x1="465.20" y1="602.00" x2="465.20" y2="604.70" stroke="#231f20" stroke-width="0.9"/>
<text x="465.20" y="615.00" font-size="9.29" fill="#231f20" text-anchor="middle" textLength="8.40" lengthAdjust="spacingAndGlyphs" stroke="#231f20" stroke-width="0.1">20</text>
<text x="391.50" y="626.50" font-size="9.07" fill="#231f20" text-anchor="middle" textLength="66.80" lengthAdjust="spacingAndGlyphs" stroke="#231f20" stroke-width="0.1">Days post-treatment</text>
<text x="292.30" y="555.50" font-size="9.07" fill="#231f20" text-anchor="middle" textLength="52.80" lengthAdjust="spacingAndGlyphs" stroke="#231f20" stroke-width="0.1" transform="rotate(-90 292.30 555.50)">Percent survival</text>
<path d="M315.80,516.6 H383.03 V545.50 H390.50 V602.00" stroke="#1c5a99" fill="none" stroke-width="1.3" stroke-dasharray="2.6,1.8"/>
<path d="M315.80,516.6 H390.50 V538.50 H420.38 V559.80 H427.85 V602.00" stroke="#f7941d" fill="none" stroke-width="1.3" stroke-dasharray="2.6,1.8"/>
<path d="M315.80,516.6 H368.09 V545.50 H375.56 V560.20 H383.03 V602.00" stroke="#1c5a99" fill="none" stroke-width="1.4"/>
<path d="M315.80,516.6 H383.03 V534.20 H390.50 V568.50 H397.97 V602.00" stroke="#f7941d" fill="none" stroke-width="1.4"/>
<path d="M315.80,516.6 H368.09" stroke="#1c5a99" fill="none" stroke-width="1.4"/>
<line x1="438.50" y1="516.60" x2="447.20" y2="516.60" stroke="#1c5a99" stroke-width="1.6"/>
<text x="450.00" y="518.70" font-size="7.56" fill="#231f20" textLength="63.50" lengthAdjust="spacingAndGlyphs" stroke="#231f20" stroke-width="0.1"><tspan font-style="italic">PDL1</tspan>-WT + Vehicle</text>
<line x1="438.50" y1="526.50" x2="447.20" y2="526.50" stroke="#1c5a99" stroke-width="1.6" stroke-dasharray="3.6,1.5"/>
<text x="450.00" y="528.60" font-size="7.56" fill="#231f20" textLength="50.30" lengthAdjust="spacingAndGlyphs" stroke="#231f20" stroke-width="0.1"><tspan font-style="italic">PDL1</tspan>-WT + CA</text>
<path d="M433.30,524.30 L434.02,525.41 L435.30,525.75 L434.46,526.78 L434.53,528.10 L433.30,527.62 L432.07,528.10 L432.14,526.78 L431.30,525.75 L432.58,525.41 Z" stroke="none" fill="#111" stroke-width="1"/>
<line x1="438.50" y1="535.90" x2="447.20" y2="535.90" stroke="#f7941d" stroke-width="1.6"/>
<text x="450.00" y="538.00" font-size="7.56" fill="#231f20" textLength="62.70" lengthAdjust="spacingAndGlyphs" stroke="#231f20" stroke-width="0.1"><tspan font-style="italic">PDL1</tspan>-KO + Vehicle</text>
<path d="M429.20,533.70 L429.92,534.81 L431.20,535.15 L430.36,536.18 L430.43,537.50 L429.20,537.02 L427.97,537.50 L428.04,536.18 L427.20,535.15 L428.48,534.81 Z" stroke="none" fill="#111" stroke-width="1"/>
<path d="M433.60,533.70 L434.32,534.81 L435.60,535.15 L434.76,536.18 L434.83,537.50 L433.60,537.02 L432.37,537.50 L432.44,536.18 L431.60,535.15 L432.88,534.81 Z" stroke="none" fill="#111" stroke-width="1"/>
<line x1="438.50" y1="545.40" x2="447.20" y2="545.40" stroke="#f7941d" stroke-width="1.6" stroke-dasharray="3.6,1.5"/>
<text x="450.00" y="547.50" font-size="7.56" fill="#231f20" textLength="49.80" lengthAdjust="spacingAndGlyphs" stroke="#231f20" stroke-width="0.1"><tspan font-style="italic">PDL1</tspan>-KO + CA</text>
<path d="M429.20,543.20 L429.92,544.31 L431.20,544.65 L430.36,545.68 L430.43,547.00 L429.20,546.52 L427.97,547.00 L428.04,545.68 L427.20,544.65 L428.48,544.31 Z" stroke="none" fill="#111" stroke-width="1"/>
<path d="M433.60,543.20 L434.32,544.31 L435.60,544.65 L434.76,545.68 L434.83,547.00 L433.60,546.52 L432.37,547.00 L432.44,545.68 L431.60,544.65 L432.88,544.31 Z" stroke="none" fill="#111" stroke-width="1"/>
<rect x="0.5" y="0.5" width="519" height="634" fill="none" stroke="#000" stroke-width="1"/>
</svg>
</body></html>
